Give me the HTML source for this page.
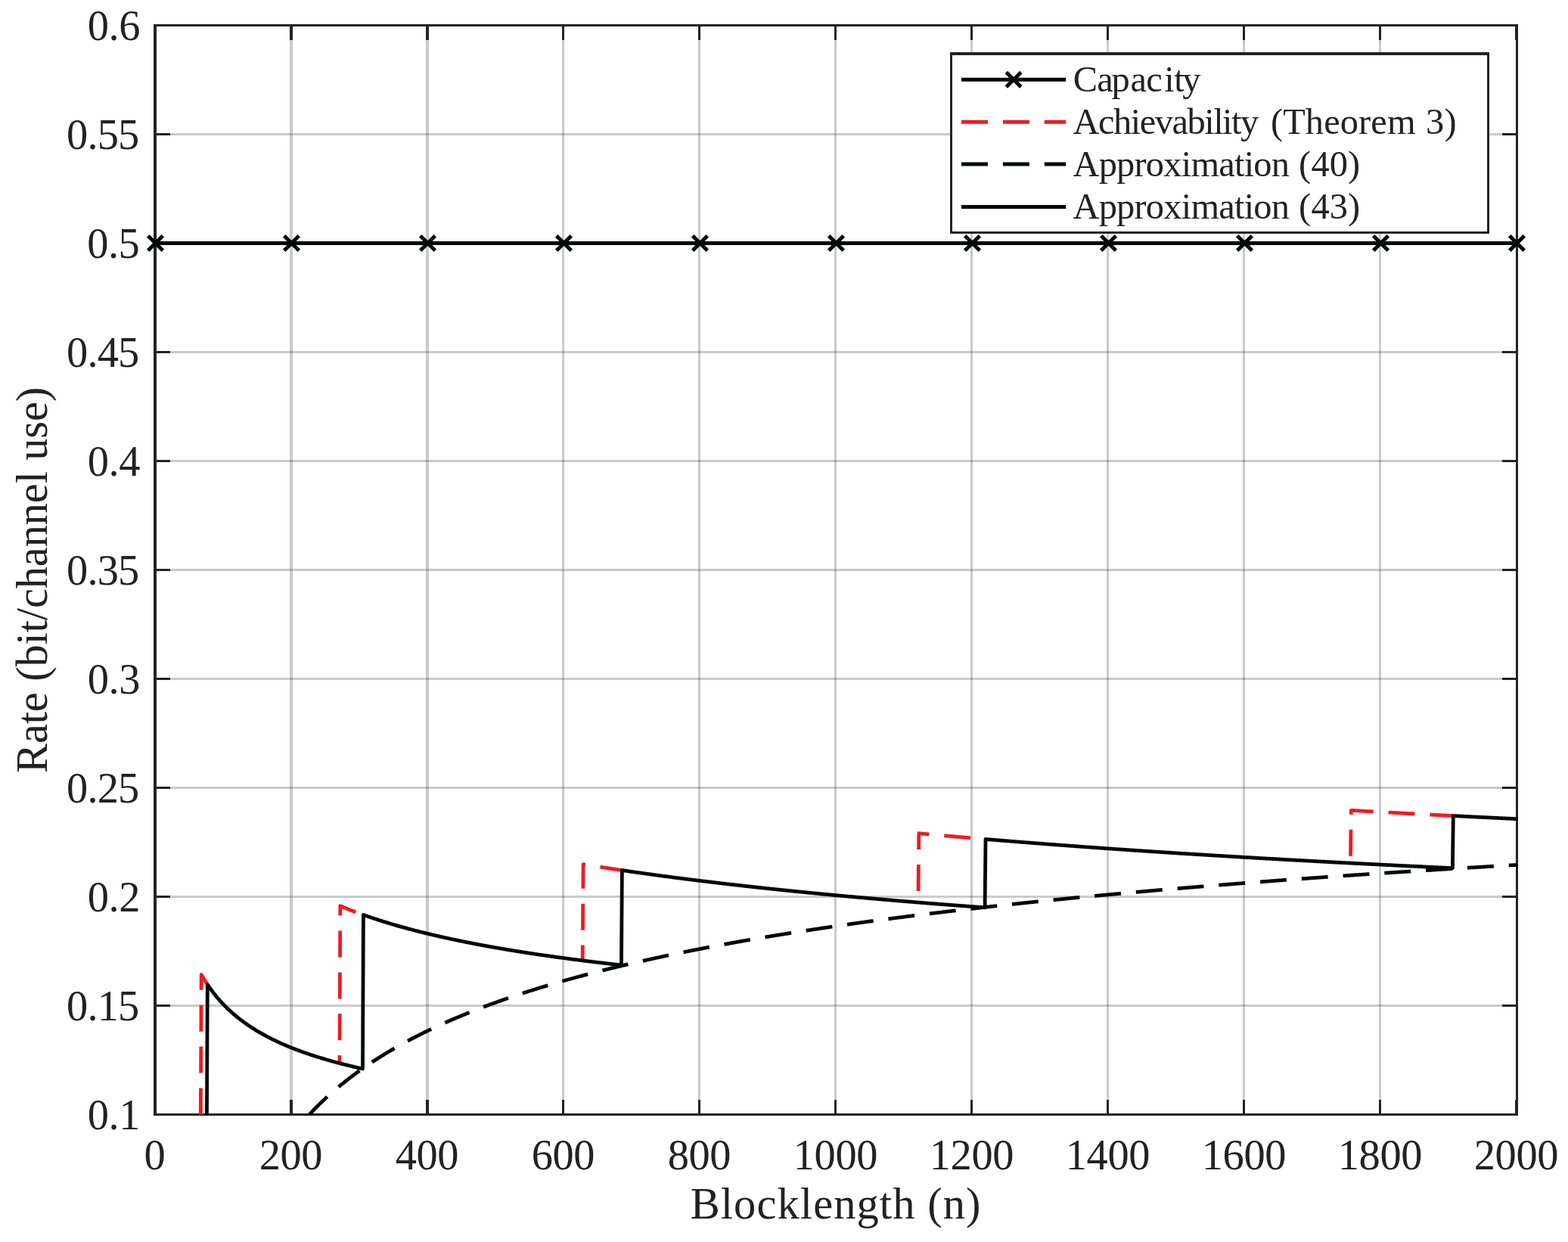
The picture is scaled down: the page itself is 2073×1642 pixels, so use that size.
<!DOCTYPE html>
<html lang="en"><head><meta charset="utf-8"><title>Rate vs Blocklength</title>
<style>html,body{margin:0;padding:0;background:#fff;}body{width:2073px;height:1642px;overflow:hidden;}svg{display:block;}</style>
</head><body>
<svg width="2073" height="1642" viewBox="0 0 2073 1642">
<rect width="2073" height="1642" fill="#ffffff"/>
<defs><clipPath id="ax"><rect x="205.0" y="32.0" width="1802.0" height="1443.0"/></clipPath></defs>
<g shape-rendering="crispEdges" fill="#262626" fill-opacity="0.245">
<rect x="383.0" y="35" width="4" height="1437"/>
<rect x="563.0" y="35" width="4" height="1437"/>
<rect x="743.0" y="35" width="3" height="1437"/>
<rect x="923.0" y="35" width="3" height="1437"/>
<rect x="1103.0" y="35" width="3" height="1437"/>
<rect x="1283.0" y="35" width="3" height="1437"/>
<rect x="1463.0" y="35" width="3" height="1437"/>
<rect x="1643.0" y="35" width="3" height="1437"/>
<rect x="1823.0" y="35" width="3" height="1437"/>
<rect x="207" y="176.0" width="1797" height="3"/>
<rect x="207" y="320.0" width="1797" height="3"/>
<rect x="207" y="464.0" width="1797" height="3"/>
<rect x="207" y="608.0" width="1797" height="3"/>
<rect x="207" y="752.0" width="1797" height="3"/>
<rect x="207" y="896.0" width="1797" height="3"/>
<rect x="207" y="1040.0" width="1797" height="3"/>
<rect x="207" y="1184.0" width="1797" height="3"/>
<rect x="207" y="1328.0" width="1797" height="3"/>
</g>
<g shape-rendering="crispEdges" fill="#232323">
<rect x="203" y="32" width="4" height="1443"/>
<rect x="2004" y="32" width="3" height="1443"/>
<rect x="203" y="32" width="1804" height="3"/>
<rect x="203" y="1472" width="1804" height="3"/>
<rect x="383.0" y="35" width="4" height="18"/>
<rect x="383.0" y="1454" width="4" height="18"/>
<rect x="563.0" y="35" width="4" height="18"/>
<rect x="563.0" y="1454" width="4" height="18"/>
<rect x="743.0" y="35" width="3" height="18"/>
<rect x="743.0" y="1454" width="3" height="18"/>
<rect x="923.0" y="35" width="3" height="18"/>
<rect x="923.0" y="1454" width="3" height="18"/>
<rect x="1103.0" y="35" width="3" height="18"/>
<rect x="1103.0" y="1454" width="3" height="18"/>
<rect x="1283.0" y="35" width="3" height="18"/>
<rect x="1283.0" y="1454" width="3" height="18"/>
<rect x="1463.0" y="35" width="3" height="18"/>
<rect x="1463.0" y="1454" width="3" height="18"/>
<rect x="1643.0" y="35" width="3" height="18"/>
<rect x="1643.0" y="1454" width="3" height="18"/>
<rect x="1823.0" y="35" width="3" height="18"/>
<rect x="1823.0" y="1454" width="3" height="18"/>
<rect x="2003.0" y="35" width="3" height="18"/>
<rect x="2003.0" y="1454" width="3" height="18"/>
<rect x="207" y="176.0" width="18" height="3"/>
<rect x="1986" y="176.0" width="18" height="3"/>
<rect x="207" y="320.0" width="18" height="3"/>
<rect x="1986" y="320.0" width="18" height="3"/>
<rect x="207" y="464.0" width="18" height="3"/>
<rect x="1986" y="464.0" width="18" height="3"/>
<rect x="207" y="608.0" width="18" height="3"/>
<rect x="1986" y="608.0" width="18" height="3"/>
<rect x="207" y="752.0" width="18" height="3"/>
<rect x="1986" y="752.0" width="18" height="3"/>
<rect x="207" y="896.0" width="18" height="3"/>
<rect x="1986" y="896.0" width="18" height="3"/>
<rect x="207" y="1040.0" width="18" height="3"/>
<rect x="1986" y="1040.0" width="18" height="3"/>
<rect x="207" y="1184.0" width="18" height="3"/>
<rect x="1986" y="1184.0" width="18" height="3"/>
<rect x="207" y="1328.0" width="18" height="3"/>
<rect x="1986" y="1328.0" width="18" height="3"/>
</g>
<g clip-path="url(#ax)" fill="none" stroke-linejoin="round">
<path d="M205.0,321.5 H2007.0" stroke="#050707" stroke-width="5"/>
<path d="M265.30,1473.50 L266.20,1288.47 L267.10,1290.04 L268.00,1291.58 L268.90,1293.10 L269.80,1294.58 L270.70,1296.04 L271.60,1297.47 L272.50,1298.87 L273.40,1300.25 L274.30,1301.61" stroke="#ed1c24" stroke-width="4.8" stroke-dasharray="35.00 19.90" stroke-dashoffset="0.00"/>
<path d="M448.90,1405.66 L449.80,1197.65 L450.70,1198.03 L451.60,1198.41 L452.50,1198.78 L453.40,1199.15 L454.30,1199.52 L455.20,1199.89 L456.10,1200.26 L457.00,1200.62 L457.90,1200.98 L458.80,1201.34 L459.70,1201.70 L460.60,1202.06 L461.50,1202.42 L462.40,1202.77 L463.30,1203.12 L464.20,1203.47 L465.10,1203.82 L466.00,1204.17 L466.90,1204.51 L467.80,1204.86 L468.70,1205.20 L469.60,1205.54 L470.50,1205.87 L471.40,1206.21 L472.30,1206.55 L473.20,1206.88 L474.10,1207.21 L475.00,1207.54 L475.90,1207.87 L476.80,1208.20 L477.70,1208.52 L478.60,1208.85 L479.50,1209.17 L480.40,1209.49" stroke="#ed1c24" stroke-width="4.8" stroke-dasharray="35.00 19.90" stroke-dashoffset="24.54"/>
<path d="M770.20,1269.89 L771.10,1142.62 L772.00,1142.77 L772.90,1142.91 L773.80,1143.06 L774.70,1143.20 L775.60,1143.35 L776.50,1143.49 L777.40,1143.64 L778.30,1143.78 L779.20,1143.93 L780.10,1144.07 L781.00,1144.22 L781.90,1144.36 L782.80,1144.50 L783.70,1144.65 L784.60,1144.79 L785.50,1144.93 L786.40,1145.07 L787.30,1145.22 L788.20,1145.36 L789.10,1145.50 L790.00,1145.64 L790.90,1145.78 L791.80,1145.92 L792.70,1146.06 L793.60,1146.20 L794.50,1146.34 L795.40,1146.48 L796.30,1146.62 L797.20,1146.76 L798.10,1146.90 L799.00,1147.04 L799.90,1147.18 L800.80,1147.32 L801.70,1147.46 L802.60,1147.59 L803.50,1147.73 L804.40,1147.87 L805.30,1148.01 L806.20,1148.14 L807.10,1148.28 L808.00,1148.42 L808.90,1148.55 L809.80,1148.69 L810.70,1148.82 L811.60,1148.96 L812.50,1149.09 L813.40,1149.23 L814.30,1149.36 L815.20,1149.50 L816.10,1149.63 L817.00,1149.77 L817.90,1149.90 L818.80,1150.03 L819.70,1150.17 L820.60,1150.30 L821.50,1150.43 L822.40,1150.57" stroke="#ed1c24" stroke-width="4.8" stroke-dasharray="35.00 19.90" stroke-dashoffset="14.71"/>
<path d="M1213.90,1193.06 L1214.80,1101.69 L1215.70,1101.78 L1216.60,1101.86 L1217.50,1101.94 L1218.40,1102.03 L1219.30,1102.11 L1220.20,1102.19 L1221.10,1102.28 L1222.00,1102.36 L1222.90,1102.44 L1223.80,1102.53 L1224.70,1102.61 L1225.60,1102.69 L1226.50,1102.77 L1227.40,1102.86 L1228.30,1102.94 L1229.20,1103.02 L1230.10,1103.10 L1231.00,1103.19 L1231.90,1103.27 L1232.80,1103.35 L1233.70,1103.43 L1234.60,1103.51 L1235.50,1103.59 L1236.40,1103.68 L1237.30,1103.76 L1238.20,1103.84 L1239.10,1103.92 L1240.00,1104.00 L1240.90,1104.08 L1241.80,1104.16 L1242.70,1104.24 L1243.60,1104.32 L1244.50,1104.40 L1245.40,1104.49 L1246.30,1104.57 L1247.20,1104.65 L1248.10,1104.73 L1249.00,1104.81 L1249.90,1104.89 L1250.80,1104.97 L1251.70,1105.05 L1252.60,1105.13 L1253.50,1105.21 L1254.40,1105.29 L1255.30,1105.37 L1256.20,1105.45 L1257.10,1105.53 L1258.00,1105.60 L1258.90,1105.68 L1259.80,1105.76 L1260.70,1105.84 L1261.60,1105.92 L1262.50,1106.00 L1263.40,1106.08 L1264.30,1106.16 L1265.20,1106.24 L1266.10,1106.31 L1267.00,1106.39 L1267.90,1106.47 L1268.80,1106.55 L1269.70,1106.63 L1270.60,1106.71 L1271.50,1106.78 L1272.40,1106.86 L1273.30,1106.94 L1274.20,1107.02 L1275.10,1107.10 L1276.00,1107.17 L1276.90,1107.25 L1277.80,1107.33 L1278.70,1107.41 L1279.60,1107.48 L1280.50,1107.56 L1281.40,1107.64 L1282.30,1107.72 L1283.20,1107.79 L1284.10,1107.87 L1285.00,1107.95 L1285.90,1108.02 L1286.80,1108.10 L1287.70,1108.18 L1288.60,1108.25 L1289.50,1108.33 L1290.40,1108.40 L1291.30,1108.48 L1292.20,1108.56 L1293.10,1108.63 L1294.00,1108.71 L1294.90,1108.79 L1295.80,1108.86 L1296.70,1108.94 L1297.60,1109.01 L1298.50,1109.09 L1299.40,1109.16 L1300.30,1109.24 L1301.20,1109.31 L1302.10,1109.39 L1303.00,1109.47" stroke="#ed1c24" stroke-width="4.8" stroke-dasharray="35.00 19.90" stroke-dashoffset="39.74"/>
<path d="M1785.40,1141.07 L1786.30,1071.31 L1787.20,1071.36 L1788.10,1071.41 L1789.00,1071.46 L1789.90,1071.51 L1790.80,1071.57 L1791.70,1071.62 L1792.60,1071.67 L1793.50,1071.72 L1794.40,1071.77 L1795.30,1071.82 L1796.20,1071.87 L1797.10,1071.92 L1798.00,1071.97 L1798.90,1072.02 L1799.80,1072.08 L1800.70,1072.13 L1801.60,1072.18 L1802.50,1072.23 L1803.40,1072.28 L1804.30,1072.33 L1805.20,1072.38 L1806.10,1072.43 L1807.00,1072.48 L1807.90,1072.53 L1808.80,1072.58 L1809.70,1072.63 L1810.60,1072.68 L1811.50,1072.73 L1812.40,1072.78 L1813.30,1072.83 L1814.20,1072.88 L1815.10,1072.93 L1816.00,1072.98 L1816.90,1073.03 L1817.80,1073.08 L1818.70,1073.13 L1819.60,1073.18 L1820.50,1073.23 L1821.40,1073.28 L1822.30,1073.33 L1823.20,1073.38 L1824.10,1073.43 L1825.00,1073.48 L1825.90,1073.53 L1826.80,1073.58 L1827.70,1073.63 L1828.60,1073.68 L1829.50,1073.73 L1830.40,1073.78 L1831.30,1073.83 L1832.20,1073.88 L1833.10,1073.93 L1834.00,1073.98 L1834.90,1074.03 L1835.80,1074.07 L1836.70,1074.12 L1837.60,1074.17 L1838.50,1074.22 L1839.40,1074.27 L1840.30,1074.32 L1841.20,1074.37 L1842.10,1074.42 L1843.00,1074.47 L1843.90,1074.52 L1844.80,1074.56 L1845.70,1074.61 L1846.60,1074.66 L1847.50,1074.71 L1848.40,1074.76 L1849.30,1074.81 L1850.20,1074.86 L1851.10,1074.90 L1852.00,1074.95 L1852.90,1075.00 L1853.80,1075.05 L1854.70,1075.10 L1855.60,1075.15 L1856.50,1075.19 L1857.40,1075.24 L1858.30,1075.29 L1859.20,1075.34 L1860.10,1075.39 L1861.00,1075.44 L1861.90,1075.48 L1862.80,1075.53 L1863.70,1075.58 L1864.60,1075.63 L1865.50,1075.67 L1866.40,1075.72 L1867.30,1075.77 L1868.20,1075.82 L1869.10,1075.87 L1870.00,1075.91 L1870.90,1075.96 L1871.80,1076.01 L1872.70,1076.06 L1873.60,1076.10 L1874.50,1076.15 L1875.40,1076.20 L1876.30,1076.25 L1877.20,1076.29 L1878.10,1076.34 L1879.00,1076.39 L1879.90,1076.44 L1880.80,1076.48 L1881.70,1076.53 L1882.60,1076.58 L1883.50,1076.62 L1884.40,1076.67 L1885.30,1076.72 L1886.20,1076.76 L1887.10,1076.81 L1888.00,1076.86 L1888.90,1076.91 L1889.80,1076.95 L1890.70,1077.00 L1891.60,1077.05 L1892.50,1077.09 L1893.40,1077.14 L1894.30,1077.19 L1895.20,1077.23 L1896.10,1077.28 L1897.00,1077.33 L1897.90,1077.37 L1898.80,1077.42 L1899.70,1077.47 L1900.60,1077.51 L1901.50,1077.56 L1902.40,1077.60 L1903.30,1077.65 L1904.20,1077.70 L1905.10,1077.74 L1906.00,1077.79 L1906.90,1077.84 L1907.80,1077.88 L1908.70,1077.93 L1909.60,1077.97 L1910.50,1078.02 L1911.40,1078.07 L1912.30,1078.11 L1913.20,1078.16 L1914.10,1078.20 L1915.00,1078.25 L1915.90,1078.29 L1916.80,1078.34 L1917.70,1078.39 L1918.60,1078.43 L1919.50,1078.48 L1920.40,1078.52 L1921.30,1078.57" stroke="#ed1c24" stroke-width="4.8" stroke-dasharray="35.00 19.90" stroke-dashoffset="45.63"/>
<path id="dsh" d="M409.05,1473.50 L409.30,1473.23 L410.20,1472.27 L411.10,1471.31 L412.00,1470.36 L412.90,1469.41 L413.80,1468.47 L414.70,1467.54 L415.60,1466.61 L416.50,1465.69 L417.40,1464.77 L418.30,1463.86 L419.20,1462.96 L420.10,1462.06 L421.00,1461.17 L421.90,1460.28 L422.80,1459.40 L423.70,1458.52 L424.60,1457.65 L425.50,1456.78 L426.40,1455.92 L427.30,1455.07 L428.20,1454.22 L429.10,1453.37 L430.00,1452.53 L430.90,1451.69 L431.80,1450.86 L432.70,1450.03 L433.60,1449.21 L434.50,1448.40 L435.40,1447.58 L436.30,1446.78 L437.20,1445.97 L438.10,1445.17 L439.00,1444.38 L439.90,1443.59 L440.80,1442.81 L441.70,1442.02 L442.60,1441.25 L443.50,1440.48 L444.40,1439.71 L445.30,1438.94 L446.20,1438.18 L447.10,1437.43 L448.00,1436.67 L448.90,1435.93 L449.80,1435.18 L450.70,1434.44 L451.60,1433.71 L452.50,1432.97 L453.40,1432.25 L454.30,1431.52 L455.20,1430.80 L456.10,1430.08 L457.00,1429.37 L457.90,1428.66 L458.80,1427.95 L459.70,1427.25 L460.60,1426.55 L461.50,1425.85 L462.40,1425.16 L463.30,1424.47 L464.20,1423.78 L465.10,1423.10 L466.00,1422.42 L466.90,1421.75 L467.80,1421.07 L468.70,1420.41 L469.60,1419.74 L470.50,1419.08 L471.40,1418.42 L472.30,1417.76 L473.20,1417.11 L474.10,1416.46 L475.00,1415.81 L475.90,1415.16 L476.80,1414.52 L477.70,1413.88 L478.60,1413.25 L479.50,1412.62 L480.40,1411.99 L481.30,1411.36 L482.20,1410.74 L483.10,1410.11 L484.00,1409.50 L484.90,1408.88 L485.80,1408.27 L486.70,1407.66 L487.60,1407.05 L488.50,1406.44 L489.40,1405.84 L490.30,1405.24 L491.20,1404.65 L492.10,1404.05 L493.00,1403.46 L493.90,1402.87 L494.80,1402.28 L495.70,1401.70 L496.60,1401.12 L497.50,1400.54 L498.40,1399.96 L499.30,1399.39 L500.20,1398.82 L501.10,1398.25 L502.00,1397.68 L502.90,1397.12 L503.80,1396.55 L504.70,1395.99 L505.60,1395.44 L506.50,1394.88 L507.40,1394.33 L508.30,1393.78 L509.20,1393.23 L510.10,1392.68 L511.00,1392.14 L511.90,1391.59 L512.80,1391.05 L513.70,1390.52 L514.60,1389.98 L515.50,1389.45 L516.40,1388.92 L517.30,1388.39 L518.20,1387.86 L519.10,1387.34 L520.00,1386.81 L520.90,1386.29 L521.80,1385.77 L522.70,1385.26 L523.60,1384.74 L524.50,1384.23 L525.40,1383.72 L526.30,1383.21 L527.20,1382.70 L528.10,1382.19 L529.00,1381.69 L529.90,1381.19 L530.80,1380.69 L531.70,1380.19 L532.60,1379.70 L533.50,1379.20 L534.40,1378.71 L535.30,1378.22 L536.20,1377.73 L537.10,1377.24 L538.00,1376.76 L538.90,1376.28 L539.80,1375.80 L540.70,1375.32 L541.60,1374.84 L542.50,1374.36 L543.40,1373.89 L544.30,1373.41 L545.20,1372.94 L546.10,1372.47 L547.00,1372.01 L547.90,1371.54 L548.80,1371.07 L549.70,1370.61 L550.60,1370.15 L551.50,1369.69 L552.40,1369.23 L553.30,1368.78 L554.20,1368.32 L555.10,1367.87 L556.00,1367.42 L556.90,1366.97 L557.80,1366.52 L558.70,1366.07 L559.60,1365.63 L560.50,1365.18 L561.40,1364.74 L562.30,1364.30 L563.20,1363.86 L564.10,1363.42 L565.00,1362.98 L565.90,1362.55 L566.80,1362.12 L567.70,1361.68 L568.60,1361.25 L569.50,1360.82 L570.40,1360.39 L571.30,1359.97 L572.20,1359.54 L573.10,1359.12 L574.00,1358.70 L574.90,1358.28 L575.80,1357.86 L576.70,1357.44 L577.60,1357.02 L578.50,1356.61 L579.40,1356.19 L580.30,1355.78 L581.20,1355.37 L582.10,1354.96 L583.00,1354.55 L583.90,1354.14 L584.80,1353.73 L585.70,1353.33 L586.60,1352.92 L587.50,1352.52 L588.40,1352.12 L589.30,1351.72 L590.20,1351.32 L591.10,1350.92 L592.00,1350.53 L592.90,1350.13 L593.80,1349.74 L594.70,1349.35 L595.60,1348.96 L596.50,1348.56 L597.40,1348.18 L598.30,1347.79 L599.20,1347.40 L600.10,1347.02 L601.00,1346.63 L601.90,1346.25 L602.80,1345.87 L603.70,1345.49 L604.60,1345.11 L605.50,1344.73 L606.40,1344.35 L607.30,1343.97 L608.20,1343.60 L609.10,1343.22 L610.00,1342.85 L610.90,1342.48 L611.80,1342.11 L612.70,1341.74 L613.60,1341.37 L614.50,1341.00 L615.40,1340.63 L616.30,1340.27 L617.20,1339.90 L618.10,1339.54 L619.00,1339.18 L619.90,1338.82 L620.80,1338.46 L621.70,1338.10 L622.60,1337.74 L623.50,1337.38 L624.40,1337.03 L625.30,1336.67 L626.20,1336.32 L627.10,1335.96 L628.00,1335.61 L628.90,1335.26 L629.80,1334.91 L630.70,1334.56 L631.60,1334.21 L632.50,1333.87 L633.40,1333.52 L634.30,1333.17 L635.20,1332.83 L636.10,1332.49 L637.00,1332.14 L637.90,1331.80 L638.80,1331.46 L639.70,1331.12 L640.60,1330.78 L641.50,1330.45 L642.40,1330.11 L643.30,1329.77 L644.20,1329.44 L645.10,1329.10 L646.00,1328.77 L646.90,1328.44 L647.80,1328.11 L648.70,1327.78 L649.60,1327.45 L650.50,1327.12 L651.40,1326.79 L652.30,1326.46 L653.20,1326.14 L654.10,1325.81 L655.00,1325.49 L655.90,1325.16 L656.80,1324.84 L657.70,1324.52 L658.60,1324.20 L659.50,1323.88 L660.40,1323.56 L661.30,1323.24 L662.20,1322.92 L663.10,1322.60 L664.00,1322.29 L664.90,1321.97 L665.80,1321.66 L666.70,1321.34 L667.60,1321.03 L668.50,1320.72 L669.40,1320.41 L670.30,1320.10 L671.20,1319.79 L672.10,1319.48 L673.00,1319.17 L673.90,1318.86 L674.80,1318.56 L675.70,1318.25 L676.60,1317.94 L677.50,1317.64 L678.40,1317.34 L679.30,1317.03 L680.20,1316.73 L681.10,1316.43 L682.00,1316.13 L682.90,1315.83 L683.80,1315.53 L684.70,1315.23 L685.60,1314.93 L686.50,1314.64 L687.40,1314.34 L688.30,1314.05 L689.20,1313.75 L690.10,1313.46 L691.00,1313.16 L691.90,1312.87 L692.80,1312.58 L693.70,1312.29 L694.60,1312.00 L695.50,1311.71 L696.40,1311.42 L697.30,1311.13 L698.20,1310.84 L699.10,1310.56 L700.00,1310.27 L700.90,1309.98 L701.80,1309.70 L702.70,1309.42 L703.60,1309.13 L704.50,1308.85 L705.40,1308.57 L706.30,1308.29 L707.20,1308.00 L708.10,1307.72 L709.00,1307.44 L709.90,1307.17 L710.80,1306.89 L711.70,1306.61 L712.60,1306.33 L713.50,1306.06 L714.40,1305.78 L715.30,1305.51 L716.20,1305.23 L717.10,1304.96 L718.00,1304.68 L718.90,1304.41 L719.80,1304.14 L720.70,1303.87 L721.60,1303.60 L722.50,1303.33 L723.40,1303.06 L724.30,1302.79 L725.20,1302.52 L726.10,1302.25 L727.00,1301.99 L727.90,1301.72 L728.80,1301.46 L729.70,1301.19 L730.60,1300.93 L731.50,1300.66 L732.40,1300.40 L733.30,1300.14 L734.20,1299.87 L735.10,1299.61 L736.00,1299.35 L736.90,1299.09 L737.80,1298.83 L738.70,1298.57 L739.60,1298.31 L740.50,1298.05 L741.40,1297.80 L742.30,1297.54 L743.20,1297.28 L744.10,1297.03 L745.00,1296.77 L745.90,1296.52 L746.80,1296.26 L747.70,1296.01 L748.60,1295.75 L749.50,1295.50 L750.40,1295.25 L751.30,1295.00 L752.20,1294.75 L753.10,1294.50 L754.00,1294.25 L754.90,1294.00 L755.80,1293.75 L756.70,1293.50 L757.60,1293.25 L758.50,1293.01 L759.40,1292.76 L760.30,1292.51 L761.20,1292.27 L762.10,1292.02 L763.00,1291.78 L763.90,1291.53 L764.80,1291.29 L765.70,1291.05 L766.60,1290.80 L767.50,1290.56 L768.40,1290.32 L769.30,1290.08 L770.20,1289.84 L771.10,1289.60 L772.00,1289.36 L772.90,1289.12 L773.80,1288.88 L774.70,1288.64 L775.60,1288.41 L776.50,1288.17 L777.40,1287.93 L778.30,1287.70 L779.20,1287.46 L780.10,1287.22 L781.00,1286.99 L781.90,1286.76 L782.80,1286.52 L783.70,1286.29 L784.60,1286.06 L785.50,1285.82 L786.40,1285.59 L787.30,1285.36 L788.20,1285.13 L789.10,1284.90 L790.00,1284.67 L790.90,1284.44 L791.80,1284.21 L792.70,1283.98 L793.60,1283.75 L794.50,1283.53 L795.40,1283.30 L796.30,1283.07 L797.20,1282.85 L798.10,1282.62 L799.00,1282.39 L799.90,1282.17 L800.80,1281.95 L801.70,1281.72 L802.60,1281.50 L803.50,1281.27 L804.40,1281.05 L805.30,1280.83 L806.20,1280.61 L807.10,1280.39 L808.00,1280.16 L808.90,1279.94 L809.80,1279.72 L810.70,1279.50 L811.60,1279.29 L812.50,1279.07 L813.40,1278.85 L814.30,1278.63 L815.20,1278.41 L816.10,1278.19 L817.00,1277.98 L817.90,1277.76 L818.80,1277.55 L819.70,1277.33 L820.60,1277.12 L821.50,1276.90 L822.40,1276.69 L823.30,1276.47 L824.20,1276.26 L825.10,1276.05 L826.00,1275.83 L826.90,1275.62 L827.80,1275.41 L828.70,1275.20 L829.60,1274.99 L830.50,1274.78 L831.40,1274.57 L832.30,1274.36 L833.20,1274.15 L834.10,1273.94 L835.00,1273.73 L835.90,1273.52 L836.80,1273.31 L837.70,1273.10 L838.60,1272.90 L839.50,1272.69 L840.40,1272.48 L841.30,1272.28 L842.20,1272.07 L843.10,1271.87 L844.00,1271.66 L844.90,1271.46 L845.80,1271.25 L846.70,1271.05 L847.60,1270.85 L848.50,1270.64 L849.40,1270.44 L850.30,1270.24 L851.20,1270.04 L852.10,1269.84 L853.00,1269.63 L853.90,1269.43 L854.80,1269.23 L855.70,1269.03 L856.60,1268.83 L857.50,1268.63 L858.40,1268.43 L859.30,1268.24 L860.20,1268.04 L861.10,1267.84 L862.00,1267.64 L862.90,1267.45 L863.80,1267.25 L864.70,1267.05 L865.60,1266.86 L866.50,1266.66 L867.40,1266.46 L868.30,1266.27 L869.20,1266.07 L870.10,1265.88 L871.00,1265.69 L871.90,1265.49 L872.80,1265.30 L873.70,1265.11 L874.60,1264.91 L875.50,1264.72 L876.40,1264.53 L877.30,1264.34 L878.20,1264.15 L879.10,1263.96 L880.00,1263.76 L880.90,1263.57 L881.80,1263.38 L882.70,1263.19 L883.60,1263.00 L884.50,1262.82 L885.40,1262.63 L886.30,1262.44 L887.20,1262.25 L888.10,1262.06 L889.00,1261.88 L889.90,1261.69 L890.80,1261.50 L891.70,1261.32 L892.60,1261.13 L893.50,1260.94 L894.40,1260.76 L895.30,1260.57 L896.20,1260.39 L897.10,1260.20 L898.00,1260.02 L898.90,1259.84 L899.80,1259.65 L900.70,1259.47 L901.60,1259.29 L902.50,1259.10 L903.40,1258.92 L904.30,1258.74 L905.20,1258.56 L906.10,1258.38 L907.00,1258.19 L907.90,1258.01 L908.80,1257.83 L909.70,1257.65 L910.60,1257.47 L911.50,1257.29 L912.40,1257.11 L913.30,1256.93 L914.20,1256.76 L915.10,1256.58 L916.00,1256.40 L916.90,1256.22 L917.80,1256.04 L918.70,1255.87 L919.60,1255.69 L920.50,1255.51 L921.40,1255.34 L922.30,1255.16 L923.20,1254.98 L924.10,1254.81 L925.00,1254.63 L925.90,1254.46 L926.80,1254.28 L927.70,1254.11 L928.60,1253.94 L929.50,1253.76 L930.40,1253.59 L931.30,1253.42 L932.20,1253.24 L933.10,1253.07 L934.00,1252.90 L934.90,1252.73 L935.80,1252.55 L936.70,1252.38 L937.60,1252.21 L938.50,1252.04 L939.40,1251.87 L940.30,1251.70 L941.20,1251.53 L942.10,1251.36 L943.00,1251.19 L943.90,1251.02 L944.80,1250.85 L945.70,1250.68 L946.60,1250.51 L947.50,1250.34 L948.40,1250.18 L949.30,1250.01 L950.20,1249.84 L951.10,1249.67 L952.00,1249.51 L952.90,1249.34 L953.80,1249.17 L954.70,1249.01 L955.60,1248.84 L956.50,1248.68 L957.40,1248.51 L958.30,1248.35 L959.20,1248.18 L960.10,1248.02 L961.00,1247.85 L961.90,1247.69 L962.80,1247.52 L963.70,1247.36 L964.60,1247.20 L965.50,1247.03 L966.40,1246.87 L967.30,1246.71 L968.20,1246.55 L969.10,1246.38 L970.00,1246.22 L970.90,1246.06 L971.80,1245.90 L972.70,1245.74 L973.60,1245.58 L974.50,1245.42 L975.40,1245.26 L976.30,1245.10 L977.20,1244.94 L978.10,1244.78 L979.00,1244.62 L979.90,1244.46 L980.80,1244.30 L981.70,1244.14 L982.60,1243.98 L983.50,1243.82 L984.40,1243.67 L985.30,1243.51 L986.20,1243.35 L987.10,1243.19 L988.00,1243.04 L988.90,1242.88 L989.80,1242.72 L990.70,1242.57 L991.60,1242.41 L992.50,1242.26 L993.40,1242.10 L994.30,1241.95 L995.20,1241.79 L996.10,1241.64 L997.00,1241.48 L997.90,1241.33 L998.80,1241.17 L999.70,1241.02 L1000.60,1240.86 L1001.50,1240.71 L1002.40,1240.56 L1003.30,1240.40 L1004.20,1240.25 L1005.10,1240.10 L1006.00,1239.95 L1006.90,1239.79 L1007.80,1239.64 L1008.70,1239.49 L1009.60,1239.34 L1010.50,1239.19 L1011.40,1239.04 L1012.30,1238.89 L1013.20,1238.74 L1014.10,1238.59 L1015.00,1238.44 L1015.90,1238.29 L1016.80,1238.14 L1017.70,1237.99 L1018.60,1237.84 L1019.50,1237.69 L1020.40,1237.54 L1021.30,1237.39 L1022.20,1237.24 L1023.10,1237.09 L1024.00,1236.95 L1024.90,1236.80 L1025.80,1236.65 L1026.70,1236.50 L1027.60,1236.36 L1028.50,1236.21 L1029.40,1236.06 L1030.30,1235.92 L1031.20,1235.77 L1032.10,1235.62 L1033.00,1235.48 L1033.90,1235.33 L1034.80,1235.19 L1035.70,1235.04 L1036.60,1234.90 L1037.50,1234.75 L1038.40,1234.61 L1039.30,1234.46 L1040.20,1234.32 L1041.10,1234.17 L1042.00,1234.03 L1042.90,1233.89 L1043.80,1233.74 L1044.70,1233.60 L1045.60,1233.46 L1046.50,1233.32 L1047.40,1233.17 L1048.30,1233.03 L1049.20,1232.89 L1050.10,1232.75 L1051.00,1232.60 L1051.90,1232.46 L1052.80,1232.32 L1053.70,1232.18 L1054.60,1232.04 L1055.50,1231.90 L1056.40,1231.76 L1057.30,1231.62 L1058.20,1231.48 L1059.10,1231.34 L1060.00,1231.20 L1060.90,1231.06 L1061.80,1230.92 L1062.70,1230.78 L1063.60,1230.64 L1064.50,1230.50 L1065.40,1230.36 L1066.30,1230.22 L1067.20,1230.09 L1068.10,1229.95 L1069.00,1229.81 L1069.90,1229.67 L1070.80,1229.53 L1071.70,1229.40 L1072.60,1229.26 L1073.50,1229.12 L1074.40,1228.99 L1075.30,1228.85 L1076.20,1228.71 L1077.10,1228.58 L1078.00,1228.44 L1078.90,1228.30 L1079.80,1228.17 L1080.70,1228.03 L1081.60,1227.90 L1082.50,1227.76 L1083.40,1227.63 L1084.30,1227.49 L1085.20,1227.36 L1086.10,1227.22 L1087.00,1227.09 L1087.90,1226.96 L1088.80,1226.82 L1089.70,1226.69 L1090.60,1226.56 L1091.50,1226.42 L1092.40,1226.29 L1093.30,1226.16 L1094.20,1226.02 L1095.10,1225.89 L1096.00,1225.76 L1096.90,1225.63 L1097.80,1225.49 L1098.70,1225.36 L1099.60,1225.23 L1100.50,1225.10 L1101.40,1224.97 L1102.30,1224.84 L1103.20,1224.70 L1104.10,1224.57 L1105.00,1224.44 L1105.90,1224.31 L1106.80,1224.18 L1107.70,1224.05 L1108.60,1223.92 L1109.50,1223.79 L1110.40,1223.66 L1111.30,1223.53 L1112.20,1223.40 L1113.10,1223.27 L1114.00,1223.15 L1114.90,1223.02 L1115.80,1222.89 L1116.70,1222.76 L1117.60,1222.63 L1118.50,1222.50 L1119.40,1222.37 L1120.30,1222.25 L1121.20,1222.12 L1122.10,1221.99 L1123.00,1221.86 L1123.90,1221.74 L1124.80,1221.61 L1125.70,1221.48 L1126.60,1221.36 L1127.50,1221.23 L1128.40,1221.10 L1129.30,1220.98 L1130.20,1220.85 L1131.10,1220.73 L1132.00,1220.60 L1132.90,1220.47 L1133.80,1220.35 L1134.70,1220.22 L1135.60,1220.10 L1136.50,1219.97 L1137.40,1219.85 L1138.30,1219.72 L1139.20,1219.60 L1140.10,1219.48 L1141.00,1219.35 L1141.90,1219.23 L1142.80,1219.10 L1143.70,1218.98 L1144.60,1218.86 L1145.50,1218.73 L1146.40,1218.61 L1147.30,1218.49 L1148.20,1218.36 L1149.10,1218.24 L1150.00,1218.12 L1150.90,1218.00 L1151.80,1217.87 L1152.70,1217.75 L1153.60,1217.63 L1154.50,1217.51 L1155.40,1217.39 L1156.30,1217.27 L1157.20,1217.14 L1158.10,1217.02 L1159.00,1216.90 L1159.90,1216.78 L1160.80,1216.66 L1161.70,1216.54 L1162.60,1216.42 L1163.50,1216.30 L1164.40,1216.18 L1165.30,1216.06 L1166.20,1215.94 L1167.10,1215.82 L1168.00,1215.70 L1168.90,1215.58 L1169.80,1215.46 L1170.70,1215.34 L1171.60,1215.22 L1172.50,1215.10 L1173.40,1214.99 L1174.30,1214.87 L1175.20,1214.75 L1176.10,1214.63 L1177.00,1214.51 L1177.90,1214.40 L1178.80,1214.28 L1179.70,1214.16 L1180.60,1214.04 L1181.50,1213.92 L1182.40,1213.81 L1183.30,1213.69 L1184.20,1213.57 L1185.10,1213.46 L1186.00,1213.34 L1186.90,1213.22 L1187.80,1213.11 L1188.70,1212.99 L1189.60,1212.88 L1190.50,1212.76 L1191.40,1212.64 L1192.30,1212.53 L1193.20,1212.41 L1194.10,1212.30 L1195.00,1212.18 L1195.90,1212.07 L1196.80,1211.95 L1197.70,1211.84 L1198.60,1211.72 L1199.50,1211.61 L1200.40,1211.49 L1201.30,1211.38 L1202.20,1211.26 L1203.10,1211.15 L1204.00,1211.04 L1204.90,1210.92 L1205.80,1210.81 L1206.70,1210.70 L1207.60,1210.58 L1208.50,1210.47 L1209.40,1210.36 L1210.30,1210.24 L1211.20,1210.13 L1212.10,1210.02 L1213.00,1209.91 L1213.90,1209.79 L1214.80,1209.68 L1215.70,1209.57 L1216.60,1209.46 L1217.50,1209.34 L1218.40,1209.23 L1219.30,1209.12 L1220.20,1209.01 L1221.10,1208.90 L1222.00,1208.79 L1222.90,1208.68 L1223.80,1208.56 L1224.70,1208.45 L1225.60,1208.34 L1226.50,1208.23 L1227.40,1208.12 L1228.30,1208.01 L1229.20,1207.90 L1230.10,1207.79 L1231.00,1207.68 L1231.90,1207.57 L1232.80,1207.46 L1233.70,1207.35 L1234.60,1207.24 L1235.50,1207.13 L1236.40,1207.02 L1237.30,1206.92 L1238.20,1206.81 L1239.10,1206.70 L1240.00,1206.59 L1240.90,1206.48 L1241.80,1206.37 L1242.70,1206.26 L1243.60,1206.16 L1244.50,1206.05 L1245.40,1205.94 L1246.30,1205.83 L1247.20,1205.72 L1248.10,1205.62 L1249.00,1205.51 L1249.90,1205.40 L1250.80,1205.30 L1251.70,1205.19 L1252.60,1205.08 L1253.50,1204.97 L1254.40,1204.87 L1255.30,1204.76 L1256.20,1204.65 L1257.10,1204.55 L1258.00,1204.44 L1258.90,1204.34 L1259.80,1204.23 L1260.70,1204.12 L1261.60,1204.02 L1262.50,1203.91 L1263.40,1203.81 L1264.30,1203.70 L1265.20,1203.60 L1266.10,1203.49 L1267.00,1203.39 L1267.90,1203.28 L1268.80,1203.18 L1269.70,1203.07 L1270.60,1202.97 L1271.50,1202.86 L1272.40,1202.76 L1273.30,1202.65 L1274.20,1202.55 L1275.10,1202.45 L1276.00,1202.34 L1276.90,1202.24 L1277.80,1202.14 L1278.70,1202.03 L1279.60,1201.93 L1280.50,1201.83 L1281.40,1201.72 L1282.30,1201.62 L1283.20,1201.52 L1284.10,1201.41 L1285.00,1201.31 L1285.90,1201.21 L1286.80,1201.11 L1287.70,1201.00 L1288.60,1200.90 L1289.50,1200.80 L1290.40,1200.70 L1291.30,1200.59 L1292.20,1200.49 L1293.10,1200.39 L1294.00,1200.29 L1294.90,1200.19 L1295.80,1200.09 L1296.70,1199.99 L1297.60,1199.88 L1298.50,1199.78 L1299.40,1199.68 L1300.30,1199.58 L1301.20,1199.48 L1302.10,1199.38 L1303.00,1199.28 L1303.90,1199.18 L1304.80,1199.08 L1305.70,1198.98 L1306.60,1198.88 L1307.50,1198.78 L1308.40,1198.68 L1309.30,1198.58 L1310.20,1198.48 L1311.10,1198.38 L1312.00,1198.28 L1312.90,1198.18 L1313.80,1198.08 L1314.70,1197.98 L1315.60,1197.88 L1316.50,1197.79 L1317.40,1197.69 L1318.30,1197.59 L1319.20,1197.49 L1320.10,1197.39 L1321.00,1197.29 L1321.90,1197.19 L1322.80,1197.10 L1323.70,1197.00 L1324.60,1196.90 L1325.50,1196.80 L1326.40,1196.70 L1327.30,1196.61 L1328.20,1196.51 L1329.10,1196.41 L1330.00,1196.32 L1330.90,1196.22 L1331.80,1196.12 L1332.70,1196.02 L1333.60,1195.93 L1334.50,1195.83 L1335.40,1195.73 L1336.30,1195.64 L1337.20,1195.54 L1338.10,1195.44 L1339.00,1195.35 L1339.90,1195.25 L1340.80,1195.16 L1341.70,1195.06 L1342.60,1194.96 L1343.50,1194.87 L1344.40,1194.77 L1345.30,1194.68 L1346.20,1194.58 L1347.10,1194.49 L1348.00,1194.39 L1348.90,1194.30 L1349.80,1194.20 L1350.70,1194.11 L1351.60,1194.01 L1352.50,1193.92 L1353.40,1193.82 L1354.30,1193.73 L1355.20,1193.63 L1356.10,1193.54 L1357.00,1193.44 L1357.90,1193.35 L1358.80,1193.26 L1359.70,1193.16 L1360.60,1193.07 L1361.50,1192.97 L1362.40,1192.88 L1363.30,1192.79 L1364.20,1192.69 L1365.10,1192.60 L1366.00,1192.51 L1366.90,1192.41 L1367.80,1192.32 L1368.70,1192.23 L1369.60,1192.13 L1370.50,1192.04 L1371.40,1191.95 L1372.30,1191.86 L1373.20,1191.76 L1374.10,1191.67 L1375.00,1191.58 L1375.90,1191.49 L1376.80,1191.39 L1377.70,1191.30 L1378.60,1191.21 L1379.50,1191.12 L1380.40,1191.03 L1381.30,1190.93 L1382.20,1190.84 L1383.10,1190.75 L1384.00,1190.66 L1384.90,1190.57 L1385.80,1190.48 L1386.70,1190.39 L1387.60,1190.30 L1388.50,1190.20 L1389.40,1190.11 L1390.30,1190.02 L1391.20,1189.93 L1392.10,1189.84 L1393.00,1189.75 L1393.90,1189.66 L1394.80,1189.57 L1395.70,1189.48 L1396.60,1189.39 L1397.50,1189.30 L1398.40,1189.21 L1399.30,1189.12 L1400.20,1189.03 L1401.10,1188.94 L1402.00,1188.85 L1402.90,1188.76 L1403.80,1188.67 L1404.70,1188.58 L1405.60,1188.49 L1406.50,1188.40 L1407.40,1188.32 L1408.30,1188.23 L1409.20,1188.14 L1410.10,1188.05 L1411.00,1187.96 L1411.90,1187.87 L1412.80,1187.78 L1413.70,1187.69 L1414.60,1187.61 L1415.50,1187.52 L1416.40,1187.43 L1417.30,1187.34 L1418.20,1187.25 L1419.10,1187.17 L1420.00,1187.08 L1420.90,1186.99 L1421.80,1186.90 L1422.70,1186.81 L1423.60,1186.73 L1424.50,1186.64 L1425.40,1186.55 L1426.30,1186.47 L1427.20,1186.38 L1428.10,1186.29 L1429.00,1186.20 L1429.90,1186.12 L1430.80,1186.03 L1431.70,1185.94 L1432.60,1185.86 L1433.50,1185.77 L1434.40,1185.68 L1435.30,1185.60 L1436.20,1185.51 L1437.10,1185.43 L1438.00,1185.34 L1438.90,1185.25 L1439.80,1185.17 L1440.70,1185.08 L1441.60,1185.00 L1442.50,1184.91 L1443.40,1184.82 L1444.30,1184.74 L1445.20,1184.65 L1446.10,1184.57 L1447.00,1184.48 L1447.90,1184.40 L1448.80,1184.31 L1449.70,1184.23 L1450.60,1184.14 L1451.50,1184.06 L1452.40,1183.97 L1453.30,1183.89 L1454.20,1183.80 L1455.10,1183.72 L1456.00,1183.63 L1456.90,1183.55 L1457.80,1183.47 L1458.70,1183.38 L1459.60,1183.30 L1460.50,1183.21 L1461.40,1183.13 L1462.30,1183.04 L1463.20,1182.96 L1464.10,1182.88 L1465.00,1182.79 L1465.90,1182.71 L1466.80,1182.63 L1467.70,1182.54 L1468.60,1182.46 L1469.50,1182.38 L1470.40,1182.29 L1471.30,1182.21 L1472.20,1182.13 L1473.10,1182.04 L1474.00,1181.96 L1474.90,1181.88 L1475.80,1181.80 L1476.70,1181.71 L1477.60,1181.63 L1478.50,1181.55 L1479.40,1181.47 L1480.30,1181.38 L1481.20,1181.30 L1482.10,1181.22 L1483.00,1181.14 L1483.90,1181.05 L1484.80,1180.97 L1485.70,1180.89 L1486.60,1180.81 L1487.50,1180.73 L1488.40,1180.65 L1489.30,1180.56 L1490.20,1180.48 L1491.10,1180.40 L1492.00,1180.32 L1492.90,1180.24 L1493.80,1180.16 L1494.70,1180.08 L1495.60,1180.00 L1496.50,1179.91 L1497.40,1179.83 L1498.30,1179.75 L1499.20,1179.67 L1500.10,1179.59 L1501.00,1179.51 L1501.90,1179.43 L1502.80,1179.35 L1503.70,1179.27 L1504.60,1179.19 L1505.50,1179.11 L1506.40,1179.03 L1507.30,1178.95 L1508.20,1178.87 L1509.10,1178.79 L1510.00,1178.71 L1510.90,1178.63 L1511.80,1178.55 L1512.70,1178.47 L1513.60,1178.39 L1514.50,1178.31 L1515.40,1178.23 L1516.30,1178.15 L1517.20,1178.07 L1518.10,1177.99 L1519.00,1177.91 L1519.90,1177.84 L1520.80,1177.76 L1521.70,1177.68 L1522.60,1177.60 L1523.50,1177.52 L1524.40,1177.44 L1525.30,1177.36 L1526.20,1177.28 L1527.10,1177.21 L1528.00,1177.13 L1528.90,1177.05 L1529.80,1176.97 L1530.70,1176.89 L1531.60,1176.81 L1532.50,1176.74 L1533.40,1176.66 L1534.30,1176.58 L1535.20,1176.50 L1536.10,1176.42 L1537.00,1176.35 L1537.90,1176.27 L1538.80,1176.19 L1539.70,1176.11 L1540.60,1176.04 L1541.50,1175.96 L1542.40,1175.88 L1543.30,1175.81 L1544.20,1175.73 L1545.10,1175.65 L1546.00,1175.57 L1546.90,1175.50 L1547.80,1175.42 L1548.70,1175.34 L1549.60,1175.27 L1550.50,1175.19 L1551.40,1175.11 L1552.30,1175.04 L1553.20,1174.96 L1554.10,1174.88 L1555.00,1174.81 L1555.90,1174.73 L1556.80,1174.66 L1557.70,1174.58 L1558.60,1174.50 L1559.50,1174.43 L1560.40,1174.35 L1561.30,1174.28 L1562.20,1174.20 L1563.10,1174.12 L1564.00,1174.05 L1564.90,1173.97 L1565.80,1173.90 L1566.70,1173.82 L1567.60,1173.75 L1568.50,1173.67 L1569.40,1173.60 L1570.30,1173.52 L1571.20,1173.45 L1572.10,1173.37 L1573.00,1173.30 L1573.90,1173.22 L1574.80,1173.15 L1575.70,1173.07 L1576.60,1173.00 L1577.50,1172.92 L1578.40,1172.85 L1579.30,1172.77 L1580.20,1172.70 L1581.10,1172.62 L1582.00,1172.55 L1582.90,1172.48 L1583.80,1172.40 L1584.70,1172.33 L1585.60,1172.25 L1586.50,1172.18 L1587.40,1172.11 L1588.30,1172.03 L1589.20,1171.96 L1590.10,1171.88 L1591.00,1171.81 L1591.90,1171.74 L1592.80,1171.66 L1593.70,1171.59 L1594.60,1171.52 L1595.50,1171.44 L1596.40,1171.37 L1597.30,1171.30 L1598.20,1171.22 L1599.10,1171.15 L1600.00,1171.08 L1600.90,1171.00 L1601.80,1170.93 L1602.70,1170.86 L1603.60,1170.79 L1604.50,1170.71 L1605.40,1170.64 L1606.30,1170.57 L1607.20,1170.50 L1608.10,1170.42 L1609.00,1170.35 L1609.90,1170.28 L1610.80,1170.21 L1611.70,1170.13 L1612.60,1170.06 L1613.50,1169.99 L1614.40,1169.92 L1615.30,1169.85 L1616.20,1169.77 L1617.10,1169.70 L1618.00,1169.63 L1618.90,1169.56 L1619.80,1169.49 L1620.70,1169.41 L1621.60,1169.34 L1622.50,1169.27 L1623.40,1169.20 L1624.30,1169.13 L1625.20,1169.06 L1626.10,1168.99 L1627.00,1168.92 L1627.90,1168.84 L1628.80,1168.77 L1629.70,1168.70 L1630.60,1168.63 L1631.50,1168.56 L1632.40,1168.49 L1633.30,1168.42 L1634.20,1168.35 L1635.10,1168.28 L1636.00,1168.21 L1636.90,1168.14 L1637.80,1168.07 L1638.70,1168.00 L1639.60,1167.92 L1640.50,1167.85 L1641.40,1167.78 L1642.30,1167.71 L1643.20,1167.64 L1644.10,1167.57 L1645.00,1167.50 L1645.90,1167.43 L1646.80,1167.36 L1647.70,1167.29 L1648.60,1167.22 L1649.50,1167.16 L1650.40,1167.09 L1651.30,1167.02 L1652.20,1166.95 L1653.10,1166.88 L1654.00,1166.81 L1654.90,1166.74 L1655.80,1166.67 L1656.70,1166.60 L1657.60,1166.53 L1658.50,1166.46 L1659.40,1166.39 L1660.30,1166.32 L1661.20,1166.25 L1662.10,1166.19 L1663.00,1166.12 L1663.90,1166.05 L1664.80,1165.98 L1665.70,1165.91 L1666.60,1165.84 L1667.50,1165.77 L1668.40,1165.70 L1669.30,1165.64 L1670.20,1165.57 L1671.10,1165.50 L1672.00,1165.43 L1672.90,1165.36 L1673.80,1165.30 L1674.70,1165.23 L1675.60,1165.16 L1676.50,1165.09 L1677.40,1165.02 L1678.30,1164.96 L1679.20,1164.89 L1680.10,1164.82 L1681.00,1164.75 L1681.90,1164.68 L1682.80,1164.62 L1683.70,1164.55 L1684.60,1164.48 L1685.50,1164.41 L1686.40,1164.35 L1687.30,1164.28 L1688.20,1164.21 L1689.10,1164.14 L1690.00,1164.08 L1690.90,1164.01 L1691.80,1163.94 L1692.70,1163.88 L1693.60,1163.81 L1694.50,1163.74 L1695.40,1163.68 L1696.30,1163.61 L1697.20,1163.54 L1698.10,1163.48 L1699.00,1163.41 L1699.90,1163.34 L1700.80,1163.28 L1701.70,1163.21 L1702.60,1163.14 L1703.50,1163.08 L1704.40,1163.01 L1705.30,1162.94 L1706.20,1162.88 L1707.10,1162.81 L1708.00,1162.75 L1708.90,1162.68 L1709.80,1162.61 L1710.70,1162.55 L1711.60,1162.48 L1712.50,1162.42 L1713.40,1162.35 L1714.30,1162.28 L1715.20,1162.22 L1716.10,1162.15 L1717.00,1162.09 L1717.90,1162.02 L1718.80,1161.96 L1719.70,1161.89 L1720.60,1161.83 L1721.50,1161.76 L1722.40,1161.70 L1723.30,1161.63 L1724.20,1161.57 L1725.10,1161.50 L1726.00,1161.44 L1726.90,1161.37 L1727.80,1161.31 L1728.70,1161.24 L1729.60,1161.18 L1730.50,1161.11 L1731.40,1161.05 L1732.30,1160.98 L1733.20,1160.92 L1734.10,1160.85 L1735.00,1160.79 L1735.90,1160.72 L1736.80,1160.66 L1737.70,1160.59 L1738.60,1160.53 L1739.50,1160.47 L1740.40,1160.40 L1741.30,1160.34 L1742.20,1160.27 L1743.10,1160.21 L1744.00,1160.15 L1744.90,1160.08 L1745.80,1160.02 L1746.70,1159.95 L1747.60,1159.89 L1748.50,1159.83 L1749.40,1159.76 L1750.30,1159.70 L1751.20,1159.64 L1752.10,1159.57 L1753.00,1159.51 L1753.90,1159.44 L1754.80,1159.38 L1755.70,1159.32 L1756.60,1159.25 L1757.50,1159.19 L1758.40,1159.13 L1759.30,1159.07 L1760.20,1159.00 L1761.10,1158.94 L1762.00,1158.88 L1762.90,1158.81 L1763.80,1158.75 L1764.70,1158.69 L1765.60,1158.62 L1766.50,1158.56 L1767.40,1158.50 L1768.30,1158.44 L1769.20,1158.37 L1770.10,1158.31 L1771.00,1158.25 L1771.90,1158.19 L1772.80,1158.12 L1773.70,1158.06 L1774.60,1158.00 L1775.50,1157.94 L1776.40,1157.87 L1777.30,1157.81 L1778.20,1157.75 L1779.10,1157.69 L1780.00,1157.63 L1780.90,1157.56 L1781.80,1157.50 L1782.70,1157.44 L1783.60,1157.38 L1784.50,1157.32 L1785.40,1157.25 L1786.30,1157.19 L1787.20,1157.13 L1788.10,1157.07 L1789.00,1157.01 L1789.90,1156.95 L1790.80,1156.89 L1791.70,1156.82 L1792.60,1156.76 L1793.50,1156.70 L1794.40,1156.64 L1795.30,1156.58 L1796.20,1156.52 L1797.10,1156.46 L1798.00,1156.39 L1798.90,1156.33 L1799.80,1156.27 L1800.70,1156.21 L1801.60,1156.15 L1802.50,1156.09 L1803.40,1156.03 L1804.30,1155.97 L1805.20,1155.91 L1806.10,1155.85 L1807.00,1155.79 L1807.90,1155.73 L1808.80,1155.67 L1809.70,1155.60 L1810.60,1155.54 L1811.50,1155.48 L1812.40,1155.42 L1813.30,1155.36 L1814.20,1155.30 L1815.10,1155.24 L1816.00,1155.18 L1816.90,1155.12 L1817.80,1155.06 L1818.70,1155.00 L1819.60,1154.94 L1820.50,1154.88 L1821.40,1154.82 L1822.30,1154.76 L1823.20,1154.70 L1824.10,1154.64 L1825.00,1154.58 L1825.90,1154.52 L1826.80,1154.46 L1827.70,1154.40 L1828.60,1154.34 L1829.50,1154.29 L1830.40,1154.23 L1831.30,1154.17 L1832.20,1154.11 L1833.10,1154.05 L1834.00,1153.99 L1834.90,1153.93 L1835.80,1153.87 L1836.70,1153.81 L1837.60,1153.75 L1838.50,1153.69 L1839.40,1153.63 L1840.30,1153.57 L1841.20,1153.52 L1842.10,1153.46 L1843.00,1153.40 L1843.90,1153.34 L1844.80,1153.28 L1845.70,1153.22 L1846.60,1153.16 L1847.50,1153.10 L1848.40,1153.05 L1849.30,1152.99 L1850.20,1152.93 L1851.10,1152.87 L1852.00,1152.81 L1852.90,1152.75 L1853.80,1152.69 L1854.70,1152.64 L1855.60,1152.58 L1856.50,1152.52 L1857.40,1152.46 L1858.30,1152.40 L1859.20,1152.35 L1860.10,1152.29 L1861.00,1152.23 L1861.90,1152.17 L1862.80,1152.11 L1863.70,1152.06 L1864.60,1152.00 L1865.50,1151.94 L1866.40,1151.88 L1867.30,1151.82 L1868.20,1151.77 L1869.10,1151.71 L1870.00,1151.65 L1870.90,1151.59 L1871.80,1151.54 L1872.70,1151.48 L1873.60,1151.42 L1874.50,1151.36 L1875.40,1151.31 L1876.30,1151.25 L1877.20,1151.19 L1878.10,1151.14 L1879.00,1151.08 L1879.90,1151.02 L1880.80,1150.96 L1881.70,1150.91 L1882.60,1150.85 L1883.50,1150.79 L1884.40,1150.74 L1885.30,1150.68 L1886.20,1150.62 L1887.10,1150.57 L1888.00,1150.51 L1888.90,1150.45 L1889.80,1150.40 L1890.70,1150.34 L1891.60,1150.28 L1892.50,1150.23 L1893.40,1150.17 L1894.30,1150.11 L1895.20,1150.06 L1896.10,1150.00 L1897.00,1149.94 L1897.90,1149.89 L1898.80,1149.83 L1899.70,1149.78 L1900.60,1149.72 L1901.50,1149.66 L1902.40,1149.61 L1903.30,1149.55 L1904.20,1149.50 L1905.10,1149.44 L1906.00,1149.38 L1906.90,1149.33 L1907.80,1149.27 L1908.70,1149.22 L1909.60,1149.16 L1910.50,1149.10 L1911.40,1149.05 L1912.30,1148.99 L1913.20,1148.94 L1914.10,1148.88 L1915.00,1148.83 L1915.90,1148.77 L1916.80,1148.72 L1917.70,1148.66 L1918.60,1148.60 L1919.50,1148.55 L1920.40,1148.49 L1921.30,1148.44 L1922.20,1148.38 L1923.10,1148.33 L1924.00,1148.27 L1924.90,1148.22 L1925.80,1148.16 L1926.70,1148.11 L1927.60,1148.05 L1928.50,1148.00 L1929.40,1147.94 L1930.30,1147.89 L1931.20,1147.83 L1932.10,1147.78 L1933.00,1147.72 L1933.90,1147.67 L1934.80,1147.61 L1935.70,1147.56 L1936.60,1147.50 L1937.50,1147.45 L1938.40,1147.40 L1939.30,1147.34 L1940.20,1147.29 L1941.10,1147.23 L1942.00,1147.18 L1942.90,1147.12 L1943.80,1147.07 L1944.70,1147.02 L1945.60,1146.96 L1946.50,1146.91 L1947.40,1146.85 L1948.30,1146.80 L1949.20,1146.74 L1950.10,1146.69 L1951.00,1146.64 L1951.90,1146.58 L1952.80,1146.53 L1953.70,1146.47 L1954.60,1146.42 L1955.50,1146.37 L1956.40,1146.31 L1957.30,1146.26 L1958.20,1146.21 L1959.10,1146.15 L1960.00,1146.10 L1960.90,1146.05 L1961.80,1145.99 L1962.70,1145.94 L1963.60,1145.88 L1964.50,1145.83 L1965.40,1145.78 L1966.30,1145.72 L1967.20,1145.67 L1968.10,1145.62 L1969.00,1145.56 L1969.90,1145.51 L1970.80,1145.46 L1971.70,1145.41 L1972.60,1145.35 L1973.50,1145.30 L1974.40,1145.25 L1975.30,1145.19 L1976.20,1145.14 L1977.10,1145.09 L1978.00,1145.03 L1978.90,1144.98 L1979.80,1144.93 L1980.70,1144.88 L1981.60,1144.82 L1982.50,1144.77 L1983.40,1144.72 L1984.30,1144.66 L1985.20,1144.61 L1986.10,1144.56 L1987.00,1144.51 L1987.90,1144.45 L1988.80,1144.40 L1989.70,1144.35 L1990.60,1144.30 L1991.50,1144.25 L1992.40,1144.19 L1993.30,1144.14 L1994.20,1144.09 L1995.10,1144.04 L1996.00,1143.98 L1996.90,1143.93 L1997.80,1143.88 L1998.70,1143.83 L1999.60,1143.78 L2000.50,1143.72 L2001.40,1143.67 L2002.30,1143.62 L2003.20,1143.57 L2004.10,1143.52 L2005.00,1143.46 L2005.90,1143.41 L2006.80,1143.36 L2007.70,1143.31" stroke="#050707" stroke-width="4.8" stroke-dasharray="35.00 19.90" stroke-dashoffset="1.67"/>
<path id="blk" d="M273.40,1476.50 L274.30,1301.61 L275.20,1302.94 L276.10,1304.25 L277.00,1305.54 L277.90,1306.81 L278.80,1308.05 L279.70,1309.28 L280.60,1310.48 L281.50,1311.67 L282.40,1312.84 L283.30,1313.99 L284.20,1315.12 L285.10,1316.24 L286.00,1317.34 L286.90,1318.42 L287.80,1319.48 L288.70,1320.53 L289.60,1321.57 L290.50,1322.59 L291.40,1323.59 L292.30,1324.59 L293.20,1325.56 L294.10,1326.53 L295.00,1327.48 L295.90,1328.42 L296.80,1329.34 L297.70,1330.26 L298.60,1331.16 L299.50,1332.05 L300.40,1332.93 L301.30,1333.79 L302.20,1334.65 L303.10,1335.49 L304.00,1336.33 L304.90,1337.15 L305.80,1337.97 L306.70,1338.77 L307.60,1339.57 L308.50,1340.35 L309.40,1341.13 L310.30,1341.89 L311.20,1342.65 L312.10,1343.40 L313.00,1344.14 L313.90,1344.87 L314.80,1345.59 L315.70,1346.31 L316.60,1347.02 L317.50,1347.72 L318.40,1348.41 L319.30,1349.09 L320.20,1349.77 L321.10,1350.44 L322.00,1351.10 L322.90,1351.76 L323.80,1352.41 L324.70,1353.05 L325.60,1353.68 L326.50,1354.31 L327.40,1354.93 L328.30,1355.55 L329.20,1356.16 L330.10,1356.76 L331.00,1357.36 L331.90,1357.95 L332.80,1358.54 L333.70,1359.12 L334.60,1359.69 L335.50,1360.26 L336.40,1360.83 L337.30,1361.38 L338.20,1361.94 L339.10,1362.48 L340.00,1363.03 L340.90,1363.56 L341.80,1364.10 L342.70,1364.63 L343.60,1365.15 L344.50,1365.67 L345.40,1366.18 L346.30,1366.69 L347.20,1367.19 L348.10,1367.69 L349.00,1368.19 L349.90,1368.68 L350.80,1369.17 L351.70,1369.65 L352.60,1370.13 L353.50,1370.61 L354.40,1371.08 L355.30,1371.54 L356.20,1372.01 L357.10,1372.47 L358.00,1372.92 L358.90,1373.37 L359.80,1373.82 L360.70,1374.27 L361.60,1374.71 L362.50,1375.14 L363.40,1375.58 L364.30,1376.01 L365.20,1376.44 L366.10,1376.86 L367.00,1377.28 L367.90,1377.70 L368.80,1378.11 L369.70,1378.52 L370.60,1378.93 L371.50,1379.33 L372.40,1379.73 L373.30,1380.13 L374.20,1380.53 L375.10,1380.92 L376.00,1381.31 L376.90,1381.70 L377.80,1382.08 L378.70,1382.46 L379.60,1382.84 L380.50,1383.21 L381.40,1383.59 L382.30,1383.96 L383.20,1384.32 L384.10,1384.69 L385.00,1385.05 L385.90,1385.41 L386.80,1385.77 L387.70,1386.12 L388.60,1386.47 L389.50,1386.82 L390.40,1387.17 L391.30,1387.52 L392.20,1387.86 L393.10,1388.20 L394.00,1388.54 L394.90,1388.87 L395.80,1389.21 L396.70,1389.54 L397.60,1389.87 L398.50,1390.19 L399.40,1390.52 L400.30,1390.84 L401.20,1391.16 L402.10,1391.48 L403.00,1391.80 L403.90,1392.11 L404.80,1392.42 L405.70,1392.74 L406.60,1393.04 L407.50,1393.35 L408.40,1393.66 L409.30,1393.96 L410.20,1394.26 L411.10,1394.56 L412.00,1394.85 L412.90,1395.15 L413.80,1395.44 L414.70,1395.74 L415.60,1396.03 L416.50,1396.31 L417.40,1396.60 L418.30,1396.88 L419.20,1397.17 L420.10,1397.45 L421.00,1397.73 L421.90,1398.01 L422.80,1398.28 L423.70,1398.56 L424.60,1398.83 L425.50,1399.10 L426.40,1399.37 L427.30,1399.64 L428.20,1399.91 L429.10,1400.17 L430.00,1400.44 L430.90,1400.70 L431.80,1400.96 L432.70,1401.22 L433.60,1401.48 L434.50,1401.74 L435.40,1401.99 L436.30,1402.24 L437.20,1402.50 L438.10,1402.75 L439.00,1403.00 L439.90,1403.25 L440.80,1403.49 L441.70,1403.74 L442.60,1403.98 L443.50,1404.22 L444.40,1404.47 L445.30,1404.71 L446.20,1404.95 L447.10,1405.18 L448.00,1405.42 L448.90,1405.66 L449.80,1405.89 L450.70,1406.12 L451.60,1406.35 L452.50,1406.58 L453.40,1406.81 L454.30,1407.04 L455.20,1407.27 L456.10,1407.49 L457.00,1407.72 L457.90,1407.94 L458.80,1408.16 L459.70,1408.39 L460.60,1408.61 L461.50,1408.82 L462.40,1409.04 L463.30,1409.26 L464.20,1409.47 L465.10,1409.69 L466.00,1409.90 L466.90,1410.12 L467.80,1410.33 L468.70,1410.54 L469.60,1410.75 L470.50,1410.96 L471.40,1411.16 L472.30,1411.37 L473.20,1411.57 L474.10,1411.78 L475.00,1411.98 L475.90,1412.18 L476.80,1412.39 L477.70,1412.59 L478.60,1412.79 L479.50,1412.99 L480.40,1209.49 L481.30,1209.81 L482.20,1210.13 L483.10,1210.44 L484.00,1210.76 L484.90,1211.07 L485.80,1211.39 L486.70,1211.70 L487.60,1212.01 L488.50,1212.31 L489.40,1212.62 L490.30,1212.93 L491.20,1213.23 L492.10,1213.53 L493.00,1213.83 L493.90,1214.13 L494.80,1214.43 L495.70,1214.73 L496.60,1215.02 L497.50,1215.32 L498.40,1215.61 L499.30,1215.90 L500.20,1216.19 L501.10,1216.48 L502.00,1216.77 L502.90,1217.06 L503.80,1217.34 L504.70,1217.63 L505.60,1217.91 L506.50,1218.19 L507.40,1218.47 L508.30,1218.75 L509.20,1219.03 L510.10,1219.31 L511.00,1219.58 L511.90,1219.86 L512.80,1220.13 L513.70,1220.40 L514.60,1220.68 L515.50,1220.95 L516.40,1221.21 L517.30,1221.48 L518.20,1221.75 L519.10,1222.02 L520.00,1222.28 L520.90,1222.54 L521.80,1222.81 L522.70,1223.07 L523.60,1223.33 L524.50,1223.59 L525.40,1223.85 L526.30,1224.10 L527.20,1224.36 L528.10,1224.61 L529.00,1224.87 L529.90,1225.12 L530.80,1225.37 L531.70,1225.62 L532.60,1225.87 L533.50,1226.12 L534.40,1226.37 L535.30,1226.62 L536.20,1226.86 L537.10,1227.11 L538.00,1227.35 L538.90,1227.60 L539.80,1227.84 L540.70,1228.08 L541.60,1228.32 L542.50,1228.56 L543.40,1228.80 L544.30,1229.04 L545.20,1229.28 L546.10,1229.51 L547.00,1229.75 L547.90,1229.98 L548.80,1230.21 L549.70,1230.45 L550.60,1230.68 L551.50,1230.91 L552.40,1231.14 L553.30,1231.37 L554.20,1231.60 L555.10,1231.82 L556.00,1232.05 L556.90,1232.27 L557.80,1232.50 L558.70,1232.72 L559.60,1232.95 L560.50,1233.17 L561.40,1233.39 L562.30,1233.61 L563.20,1233.83 L564.10,1234.05 L565.00,1234.27 L565.90,1234.49 L566.80,1234.70 L567.70,1234.92 L568.60,1235.13 L569.50,1235.35 L570.40,1235.56 L571.30,1235.78 L572.20,1235.99 L573.10,1236.20 L574.00,1236.41 L574.90,1236.62 L575.80,1236.83 L576.70,1237.04 L577.60,1237.24 L578.50,1237.45 L579.40,1237.66 L580.30,1237.86 L581.20,1238.07 L582.10,1238.27 L583.00,1238.48 L583.90,1238.68 L584.80,1238.88 L585.70,1239.08 L586.60,1239.28 L587.50,1239.48 L588.40,1239.68 L589.30,1239.88 L590.20,1240.08 L591.10,1240.28 L592.00,1240.47 L592.90,1240.67 L593.80,1240.86 L594.70,1241.06 L595.60,1241.25 L596.50,1241.45 L597.40,1241.64 L598.30,1241.83 L599.20,1242.02 L600.10,1242.21 L601.00,1242.40 L601.90,1242.59 L602.80,1242.78 L603.70,1242.97 L604.60,1243.16 L605.50,1243.35 L606.40,1243.53 L607.30,1243.72 L608.20,1243.90 L609.10,1244.09 L610.00,1244.27 L610.90,1244.46 L611.80,1244.64 L612.70,1244.82 L613.60,1245.00 L614.50,1245.18 L615.40,1245.37 L616.30,1245.55 L617.20,1245.73 L618.10,1245.90 L619.00,1246.08 L619.90,1246.26 L620.80,1246.44 L621.70,1246.61 L622.60,1246.79 L623.50,1246.97 L624.40,1247.14 L625.30,1247.32 L626.20,1247.49 L627.10,1247.66 L628.00,1247.84 L628.90,1248.01 L629.80,1248.18 L630.70,1248.35 L631.60,1248.52 L632.50,1248.69 L633.40,1248.86 L634.30,1249.03 L635.20,1249.20 L636.10,1249.37 L637.00,1249.54 L637.90,1249.70 L638.80,1249.87 L639.70,1250.04 L640.60,1250.20 L641.50,1250.37 L642.40,1250.53 L643.30,1250.70 L644.20,1250.86 L645.10,1251.02 L646.00,1251.19 L646.90,1251.35 L647.80,1251.51 L648.70,1251.67 L649.60,1251.83 L650.50,1251.99 L651.40,1252.15 L652.30,1252.31 L653.20,1252.47 L654.10,1252.63 L655.00,1252.79 L655.90,1252.95 L656.80,1253.10 L657.70,1253.26 L658.60,1253.42 L659.50,1253.57 L660.40,1253.73 L661.30,1253.88 L662.20,1254.04 L663.10,1254.19 L664.00,1254.34 L664.90,1254.50 L665.80,1254.65 L666.70,1254.80 L667.60,1254.95 L668.50,1255.11 L669.40,1255.26 L670.30,1255.41 L671.20,1255.56 L672.10,1255.71 L673.00,1255.86 L673.90,1256.01 L674.80,1256.15 L675.70,1256.30 L676.60,1256.45 L677.50,1256.60 L678.40,1256.74 L679.30,1256.89 L680.20,1257.04 L681.10,1257.18 L682.00,1257.33 L682.90,1257.47 L683.80,1257.62 L684.70,1257.76 L685.60,1257.91 L686.50,1258.05 L687.40,1258.19 L688.30,1258.33 L689.20,1258.48 L690.10,1258.62 L691.00,1258.76 L691.90,1258.90 L692.80,1259.04 L693.70,1259.18 L694.60,1259.32 L695.50,1259.46 L696.40,1259.60 L697.30,1259.74 L698.20,1259.88 L699.10,1260.02 L700.00,1260.15 L700.90,1260.29 L701.80,1260.43 L702.70,1260.56 L703.60,1260.70 L704.50,1260.84 L705.40,1260.97 L706.30,1261.11 L707.20,1261.24 L708.10,1261.38 L709.00,1261.51 L709.90,1261.64 L710.80,1261.78 L711.70,1261.91 L712.60,1262.04 L713.50,1262.18 L714.40,1262.31 L715.30,1262.44 L716.20,1262.57 L717.10,1262.70 L718.00,1262.83 L718.90,1262.96 L719.80,1263.09 L720.70,1263.22 L721.60,1263.35 L722.50,1263.48 L723.40,1263.61 L724.30,1263.74 L725.20,1263.87 L726.10,1263.99 L727.00,1264.12 L727.90,1264.25 L728.80,1264.38 L729.70,1264.50 L730.60,1264.63 L731.50,1264.75 L732.40,1264.88 L733.30,1265.01 L734.20,1265.13 L735.10,1265.25 L736.00,1265.38 L736.90,1265.50 L737.80,1265.63 L738.70,1265.75 L739.60,1265.87 L740.50,1266.00 L741.40,1266.12 L742.30,1266.24 L743.20,1266.36 L744.10,1266.48 L745.00,1266.61 L745.90,1266.73 L746.80,1266.85 L747.70,1266.97 L748.60,1267.09 L749.50,1267.21 L750.40,1267.33 L751.30,1267.45 L752.20,1267.57 L753.10,1267.68 L754.00,1267.80 L754.90,1267.92 L755.80,1268.04 L756.70,1268.16 L757.60,1268.27 L758.50,1268.39 L759.40,1268.51 L760.30,1268.62 L761.20,1268.74 L762.10,1268.86 L763.00,1268.97 L763.90,1269.09 L764.80,1269.20 L765.70,1269.32 L766.60,1269.43 L767.50,1269.55 L768.40,1269.66 L769.30,1269.77 L770.20,1269.89 L771.10,1270.00 L772.00,1270.11 L772.90,1270.23 L773.80,1270.34 L774.70,1270.45 L775.60,1270.56 L776.50,1270.68 L777.40,1270.79 L778.30,1270.90 L779.20,1271.01 L780.10,1271.12 L781.00,1271.23 L781.90,1271.34 L782.80,1271.45 L783.70,1271.56 L784.60,1271.67 L785.50,1271.78 L786.40,1271.89 L787.30,1272.00 L788.20,1272.10 L789.10,1272.21 L790.00,1272.32 L790.90,1272.43 L791.80,1272.54 L792.70,1272.64 L793.60,1272.75 L794.50,1272.86 L795.40,1272.96 L796.30,1273.07 L797.20,1273.18 L798.10,1273.28 L799.00,1273.39 L799.90,1273.49 L800.80,1273.60 L801.70,1273.70 L802.60,1273.81 L803.50,1273.91 L804.40,1274.02 L805.30,1274.12 L806.20,1274.22 L807.10,1274.33 L808.00,1274.43 L808.90,1274.53 L809.80,1274.64 L810.70,1274.74 L811.60,1274.84 L812.50,1274.94 L813.40,1275.05 L814.30,1275.15 L815.20,1275.25 L816.10,1275.35 L817.00,1275.45 L817.90,1275.55 L818.80,1275.65 L819.70,1275.75 L820.60,1275.85 L821.50,1275.95 L822.40,1150.57 L823.30,1150.70 L824.20,1150.83 L825.10,1150.96 L826.00,1151.10 L826.90,1151.23 L827.80,1151.36 L828.70,1151.49 L829.60,1151.62 L830.50,1151.75 L831.40,1151.88 L832.30,1152.01 L833.20,1152.14 L834.10,1152.27 L835.00,1152.40 L835.90,1152.53 L836.80,1152.66 L837.70,1152.79 L838.60,1152.92 L839.50,1153.05 L840.40,1153.18 L841.30,1153.30 L842.20,1153.43 L843.10,1153.56 L844.00,1153.69 L844.90,1153.81 L845.80,1153.94 L846.70,1154.07 L847.60,1154.19 L848.50,1154.32 L849.40,1154.45 L850.30,1154.57 L851.20,1154.70 L852.10,1154.82 L853.00,1154.95 L853.90,1155.08 L854.80,1155.20 L855.70,1155.33 L856.60,1155.45 L857.50,1155.57 L858.40,1155.70 L859.30,1155.82 L860.20,1155.95 L861.10,1156.07 L862.00,1156.19 L862.90,1156.32 L863.80,1156.44 L864.70,1156.56 L865.60,1156.68 L866.50,1156.81 L867.40,1156.93 L868.30,1157.05 L869.20,1157.17 L870.10,1157.29 L871.00,1157.42 L871.90,1157.54 L872.80,1157.66 L873.70,1157.78 L874.60,1157.90 L875.50,1158.02 L876.40,1158.14 L877.30,1158.26 L878.20,1158.38 L879.10,1158.50 L880.00,1158.62 L880.90,1158.74 L881.80,1158.86 L882.70,1158.98 L883.60,1159.10 L884.50,1159.21 L885.40,1159.33 L886.30,1159.45 L887.20,1159.57 L888.10,1159.69 L889.00,1159.80 L889.90,1159.92 L890.80,1160.04 L891.70,1160.16 L892.60,1160.27 L893.50,1160.39 L894.40,1160.51 L895.30,1160.62 L896.20,1160.74 L897.10,1160.85 L898.00,1160.97 L898.90,1161.09 L899.80,1161.20 L900.70,1161.32 L901.60,1161.43 L902.50,1161.55 L903.40,1161.66 L904.30,1161.78 L905.20,1161.89 L906.10,1162.00 L907.00,1162.12 L907.90,1162.23 L908.80,1162.35 L909.70,1162.46 L910.60,1162.57 L911.50,1162.69 L912.40,1162.80 L913.30,1162.91 L914.20,1163.02 L915.10,1163.14 L916.00,1163.25 L916.90,1163.36 L917.80,1163.47 L918.70,1163.58 L919.60,1163.70 L920.50,1163.81 L921.40,1163.92 L922.30,1164.03 L923.20,1164.14 L924.10,1164.25 L925.00,1164.36 L925.90,1164.47 L926.80,1164.58 L927.70,1164.69 L928.60,1164.80 L929.50,1164.91 L930.40,1165.02 L931.30,1165.13 L932.20,1165.24 L933.10,1165.35 L934.00,1165.46 L934.90,1165.57 L935.80,1165.68 L936.70,1165.79 L937.60,1165.89 L938.50,1166.00 L939.40,1166.11 L940.30,1166.22 L941.20,1166.32 L942.10,1166.43 L943.00,1166.54 L943.90,1166.65 L944.80,1166.75 L945.70,1166.86 L946.60,1166.97 L947.50,1167.07 L948.40,1167.18 L949.30,1167.29 L950.20,1167.39 L951.10,1167.50 L952.00,1167.60 L952.90,1167.71 L953.80,1167.82 L954.70,1167.92 L955.60,1168.03 L956.50,1168.13 L957.40,1168.24 L958.30,1168.34 L959.20,1168.45 L960.10,1168.55 L961.00,1168.65 L961.90,1168.76 L962.80,1168.86 L963.70,1168.97 L964.60,1169.07 L965.50,1169.17 L966.40,1169.28 L967.30,1169.38 L968.20,1169.48 L969.10,1169.59 L970.00,1169.69 L970.90,1169.79 L971.80,1169.89 L972.70,1170.00 L973.60,1170.10 L974.50,1170.20 L975.40,1170.30 L976.30,1170.40 L977.20,1170.50 L978.10,1170.61 L979.00,1170.71 L979.90,1170.81 L980.80,1170.91 L981.70,1171.01 L982.60,1171.11 L983.50,1171.21 L984.40,1171.31 L985.30,1171.41 L986.20,1171.51 L987.10,1171.61 L988.00,1171.71 L988.90,1171.81 L989.80,1171.91 L990.70,1172.01 L991.60,1172.11 L992.50,1172.21 L993.40,1172.31 L994.30,1172.41 L995.20,1172.51 L996.10,1172.61 L997.00,1172.70 L997.90,1172.80 L998.80,1172.90 L999.70,1173.00 L1000.60,1173.10 L1001.50,1173.19 L1002.40,1173.29 L1003.30,1173.39 L1004.20,1173.49 L1005.10,1173.58 L1006.00,1173.68 L1006.90,1173.78 L1007.80,1173.87 L1008.70,1173.97 L1009.60,1174.07 L1010.50,1174.16 L1011.40,1174.26 L1012.30,1174.36 L1013.20,1174.45 L1014.10,1174.55 L1015.00,1174.64 L1015.90,1174.74 L1016.80,1174.84 L1017.70,1174.93 L1018.60,1175.03 L1019.50,1175.12 L1020.40,1175.22 L1021.30,1175.31 L1022.20,1175.41 L1023.10,1175.50 L1024.00,1175.60 L1024.90,1175.69 L1025.80,1175.78 L1026.70,1175.88 L1027.60,1175.97 L1028.50,1176.07 L1029.40,1176.16 L1030.30,1176.25 L1031.20,1176.35 L1032.10,1176.44 L1033.00,1176.53 L1033.90,1176.63 L1034.80,1176.72 L1035.70,1176.81 L1036.60,1176.91 L1037.50,1177.00 L1038.40,1177.09 L1039.30,1177.18 L1040.20,1177.27 L1041.10,1177.37 L1042.00,1177.46 L1042.90,1177.55 L1043.80,1177.64 L1044.70,1177.73 L1045.60,1177.83 L1046.50,1177.92 L1047.40,1178.01 L1048.30,1178.10 L1049.20,1178.19 L1050.10,1178.28 L1051.00,1178.37 L1051.90,1178.46 L1052.80,1178.55 L1053.70,1178.64 L1054.60,1178.73 L1055.50,1178.82 L1056.40,1178.91 L1057.30,1179.00 L1058.20,1179.09 L1059.10,1179.18 L1060.00,1179.27 L1060.90,1179.36 L1061.80,1179.45 L1062.70,1179.54 L1063.60,1179.63 L1064.50,1179.72 L1065.40,1179.81 L1066.30,1179.90 L1067.20,1179.99 L1068.10,1180.07 L1069.00,1180.16 L1069.90,1180.25 L1070.80,1180.34 L1071.70,1180.43 L1072.60,1180.52 L1073.50,1180.60 L1074.40,1180.69 L1075.30,1180.78 L1076.20,1180.87 L1077.10,1180.95 L1078.00,1181.04 L1078.90,1181.13 L1079.80,1181.22 L1080.70,1181.30 L1081.60,1181.39 L1082.50,1181.48 L1083.40,1181.56 L1084.30,1181.65 L1085.20,1181.74 L1086.10,1181.82 L1087.00,1181.91 L1087.90,1181.99 L1088.80,1182.08 L1089.70,1182.17 L1090.60,1182.25 L1091.50,1182.34 L1092.40,1182.42 L1093.30,1182.51 L1094.20,1182.59 L1095.10,1182.68 L1096.00,1182.76 L1096.90,1182.85 L1097.80,1182.93 L1098.70,1183.02 L1099.60,1183.10 L1100.50,1183.19 L1101.40,1183.27 L1102.30,1183.36 L1103.20,1183.44 L1104.10,1183.53 L1105.00,1183.61 L1105.90,1183.69 L1106.80,1183.78 L1107.70,1183.86 L1108.60,1183.94 L1109.50,1184.03 L1110.40,1184.11 L1111.30,1184.19 L1112.20,1184.28 L1113.10,1184.36 L1114.00,1184.44 L1114.90,1184.53 L1115.80,1184.61 L1116.70,1184.69 L1117.60,1184.77 L1118.50,1184.86 L1119.40,1184.94 L1120.30,1185.02 L1121.20,1185.10 L1122.10,1185.19 L1123.00,1185.27 L1123.90,1185.35 L1124.80,1185.43 L1125.70,1185.51 L1126.60,1185.60 L1127.50,1185.68 L1128.40,1185.76 L1129.30,1185.84 L1130.20,1185.92 L1131.10,1186.00 L1132.00,1186.08 L1132.90,1186.16 L1133.80,1186.24 L1134.70,1186.32 L1135.60,1186.41 L1136.50,1186.49 L1137.40,1186.57 L1138.30,1186.65 L1139.20,1186.73 L1140.10,1186.81 L1141.00,1186.89 L1141.90,1186.97 L1142.80,1187.05 L1143.70,1187.13 L1144.60,1187.21 L1145.50,1187.29 L1146.40,1187.36 L1147.30,1187.44 L1148.20,1187.52 L1149.10,1187.60 L1150.00,1187.68 L1150.90,1187.76 L1151.80,1187.84 L1152.70,1187.92 L1153.60,1188.00 L1154.50,1188.08 L1155.40,1188.15 L1156.30,1188.23 L1157.20,1188.31 L1158.10,1188.39 L1159.00,1188.47 L1159.90,1188.54 L1160.80,1188.62 L1161.70,1188.70 L1162.60,1188.78 L1163.50,1188.86 L1164.40,1188.93 L1165.30,1189.01 L1166.20,1189.09 L1167.10,1189.17 L1168.00,1189.24 L1168.90,1189.32 L1169.80,1189.40 L1170.70,1189.47 L1171.60,1189.55 L1172.50,1189.63 L1173.40,1189.70 L1174.30,1189.78 L1175.20,1189.86 L1176.10,1189.93 L1177.00,1190.01 L1177.90,1190.09 L1178.80,1190.16 L1179.70,1190.24 L1180.60,1190.31 L1181.50,1190.39 L1182.40,1190.47 L1183.30,1190.54 L1184.20,1190.62 L1185.10,1190.69 L1186.00,1190.77 L1186.90,1190.84 L1187.80,1190.92 L1188.70,1190.99 L1189.60,1191.07 L1190.50,1191.14 L1191.40,1191.22 L1192.30,1191.29 L1193.20,1191.37 L1194.10,1191.44 L1195.00,1191.52 L1195.90,1191.59 L1196.80,1191.67 L1197.70,1191.74 L1198.60,1191.81 L1199.50,1191.89 L1200.40,1191.96 L1201.30,1192.04 L1202.20,1192.11 L1203.10,1192.18 L1204.00,1192.26 L1204.90,1192.33 L1205.80,1192.40 L1206.70,1192.48 L1207.60,1192.55 L1208.50,1192.62 L1209.40,1192.70 L1210.30,1192.77 L1211.20,1192.84 L1212.10,1192.92 L1213.00,1192.99 L1213.90,1193.06 L1214.80,1193.13 L1215.70,1193.21 L1216.60,1193.28 L1217.50,1193.35 L1218.40,1193.42 L1219.30,1193.50 L1220.20,1193.57 L1221.10,1193.64 L1222.00,1193.71 L1222.90,1193.78 L1223.80,1193.86 L1224.70,1193.93 L1225.60,1194.00 L1226.50,1194.07 L1227.40,1194.14 L1228.30,1194.21 L1229.20,1194.29 L1230.10,1194.36 L1231.00,1194.43 L1231.90,1194.50 L1232.80,1194.57 L1233.70,1194.64 L1234.60,1194.71 L1235.50,1194.78 L1236.40,1194.85 L1237.30,1194.92 L1238.20,1195.00 L1239.10,1195.07 L1240.00,1195.14 L1240.90,1195.21 L1241.80,1195.28 L1242.70,1195.35 L1243.60,1195.42 L1244.50,1195.49 L1245.40,1195.56 L1246.30,1195.63 L1247.20,1195.70 L1248.10,1195.77 L1249.00,1195.84 L1249.90,1195.91 L1250.80,1195.98 L1251.70,1196.04 L1252.60,1196.11 L1253.50,1196.18 L1254.40,1196.25 L1255.30,1196.32 L1256.20,1196.39 L1257.10,1196.46 L1258.00,1196.53 L1258.90,1196.60 L1259.80,1196.67 L1260.70,1196.73 L1261.60,1196.80 L1262.50,1196.87 L1263.40,1196.94 L1264.30,1197.01 L1265.20,1197.08 L1266.10,1197.15 L1267.00,1197.21 L1267.90,1197.28 L1268.80,1197.35 L1269.70,1197.42 L1270.60,1197.49 L1271.50,1197.55 L1272.40,1197.62 L1273.30,1197.69 L1274.20,1197.76 L1275.10,1197.82 L1276.00,1197.89 L1276.90,1197.96 L1277.80,1198.03 L1278.70,1198.09 L1279.60,1198.16 L1280.50,1198.23 L1281.40,1198.29 L1282.30,1198.36 L1283.20,1198.43 L1284.10,1198.49 L1285.00,1198.56 L1285.90,1198.63 L1286.80,1198.69 L1287.70,1198.76 L1288.60,1198.83 L1289.50,1198.89 L1290.40,1198.96 L1291.30,1199.03 L1292.20,1199.09 L1293.10,1199.16 L1294.00,1199.22 L1294.90,1199.29 L1295.80,1199.36 L1296.70,1199.42 L1297.60,1199.49 L1298.50,1199.55 L1299.40,1199.62 L1300.30,1199.68 L1301.20,1199.75 L1302.10,1199.81 L1303.00,1109.47 L1303.90,1109.54 L1304.80,1109.62 L1305.70,1109.69 L1306.60,1109.77 L1307.50,1109.84 L1308.40,1109.91 L1309.30,1109.99 L1310.20,1110.06 L1311.10,1110.14 L1312.00,1110.21 L1312.90,1110.29 L1313.80,1110.36 L1314.70,1110.44 L1315.60,1110.51 L1316.50,1110.58 L1317.40,1110.66 L1318.30,1110.73 L1319.20,1110.81 L1320.10,1110.88 L1321.00,1110.95 L1321.90,1111.03 L1322.80,1111.10 L1323.70,1111.17 L1324.60,1111.25 L1325.50,1111.32 L1326.40,1111.39 L1327.30,1111.47 L1328.20,1111.54 L1329.10,1111.61 L1330.00,1111.68 L1330.90,1111.76 L1331.80,1111.83 L1332.70,1111.90 L1333.60,1111.98 L1334.50,1112.05 L1335.40,1112.12 L1336.30,1112.19 L1337.20,1112.27 L1338.10,1112.34 L1339.00,1112.41 L1339.90,1112.48 L1340.80,1112.55 L1341.70,1112.63 L1342.60,1112.70 L1343.50,1112.77 L1344.40,1112.84 L1345.30,1112.91 L1346.20,1112.98 L1347.10,1113.06 L1348.00,1113.13 L1348.90,1113.20 L1349.80,1113.27 L1350.70,1113.34 L1351.60,1113.41 L1352.50,1113.48 L1353.40,1113.55 L1354.30,1113.62 L1355.20,1113.70 L1356.10,1113.77 L1357.00,1113.84 L1357.90,1113.91 L1358.80,1113.98 L1359.70,1114.05 L1360.60,1114.12 L1361.50,1114.19 L1362.40,1114.26 L1363.30,1114.33 L1364.20,1114.40 L1365.10,1114.47 L1366.00,1114.54 L1366.90,1114.61 L1367.80,1114.68 L1368.70,1114.75 L1369.60,1114.82 L1370.50,1114.89 L1371.40,1114.96 L1372.30,1115.03 L1373.20,1115.10 L1374.10,1115.17 L1375.00,1115.24 L1375.90,1115.30 L1376.80,1115.37 L1377.70,1115.44 L1378.60,1115.51 L1379.50,1115.58 L1380.40,1115.65 L1381.30,1115.72 L1382.20,1115.79 L1383.10,1115.86 L1384.00,1115.92 L1384.90,1115.99 L1385.80,1116.06 L1386.70,1116.13 L1387.60,1116.20 L1388.50,1116.27 L1389.40,1116.33 L1390.30,1116.40 L1391.20,1116.47 L1392.10,1116.54 L1393.00,1116.61 L1393.90,1116.67 L1394.80,1116.74 L1395.70,1116.81 L1396.60,1116.88 L1397.50,1116.95 L1398.40,1117.01 L1399.30,1117.08 L1400.20,1117.15 L1401.10,1117.21 L1402.00,1117.28 L1402.90,1117.35 L1403.80,1117.42 L1404.70,1117.48 L1405.60,1117.55 L1406.50,1117.62 L1407.40,1117.68 L1408.30,1117.75 L1409.20,1117.82 L1410.10,1117.88 L1411.00,1117.95 L1411.90,1118.02 L1412.80,1118.08 L1413.70,1118.15 L1414.60,1118.22 L1415.50,1118.28 L1416.40,1118.35 L1417.30,1118.42 L1418.20,1118.48 L1419.10,1118.55 L1420.00,1118.61 L1420.90,1118.68 L1421.80,1118.74 L1422.70,1118.81 L1423.60,1118.88 L1424.50,1118.94 L1425.40,1119.01 L1426.30,1119.07 L1427.20,1119.14 L1428.10,1119.20 L1429.00,1119.27 L1429.90,1119.33 L1430.80,1119.40 L1431.70,1119.46 L1432.60,1119.53 L1433.50,1119.59 L1434.40,1119.66 L1435.30,1119.72 L1436.20,1119.79 L1437.10,1119.85 L1438.00,1119.92 L1438.90,1119.98 L1439.80,1120.05 L1440.70,1120.11 L1441.60,1120.18 L1442.50,1120.24 L1443.40,1120.31 L1444.30,1120.37 L1445.20,1120.43 L1446.10,1120.50 L1447.00,1120.56 L1447.90,1120.63 L1448.80,1120.69 L1449.70,1120.75 L1450.60,1120.82 L1451.50,1120.88 L1452.40,1120.95 L1453.30,1121.01 L1454.20,1121.07 L1455.10,1121.14 L1456.00,1121.20 L1456.90,1121.26 L1457.80,1121.33 L1458.70,1121.39 L1459.60,1121.45 L1460.50,1121.52 L1461.40,1121.58 L1462.30,1121.64 L1463.20,1121.71 L1464.10,1121.77 L1465.00,1121.83 L1465.90,1121.89 L1466.80,1121.96 L1467.70,1122.02 L1468.60,1122.08 L1469.50,1122.15 L1470.40,1122.21 L1471.30,1122.27 L1472.20,1122.33 L1473.10,1122.40 L1474.00,1122.46 L1474.90,1122.52 L1475.80,1122.58 L1476.70,1122.64 L1477.60,1122.71 L1478.50,1122.77 L1479.40,1122.83 L1480.30,1122.89 L1481.20,1122.95 L1482.10,1123.02 L1483.00,1123.08 L1483.90,1123.14 L1484.80,1123.20 L1485.70,1123.26 L1486.60,1123.32 L1487.50,1123.39 L1488.40,1123.45 L1489.30,1123.51 L1490.20,1123.57 L1491.10,1123.63 L1492.00,1123.69 L1492.90,1123.75 L1493.80,1123.81 L1494.70,1123.87 L1495.60,1123.94 L1496.50,1124.00 L1497.40,1124.06 L1498.30,1124.12 L1499.20,1124.18 L1500.10,1124.24 L1501.00,1124.30 L1501.90,1124.36 L1502.80,1124.42 L1503.70,1124.48 L1504.60,1124.54 L1505.50,1124.60 L1506.40,1124.66 L1507.30,1124.72 L1508.20,1124.78 L1509.10,1124.84 L1510.00,1124.90 L1510.90,1124.96 L1511.80,1125.02 L1512.70,1125.08 L1513.60,1125.14 L1514.50,1125.20 L1515.40,1125.26 L1516.30,1125.32 L1517.20,1125.38 L1518.10,1125.44 L1519.00,1125.50 L1519.90,1125.56 L1520.80,1125.62 L1521.70,1125.68 L1522.60,1125.74 L1523.50,1125.80 L1524.40,1125.86 L1525.30,1125.92 L1526.20,1125.98 L1527.10,1126.03 L1528.00,1126.09 L1528.90,1126.15 L1529.80,1126.21 L1530.70,1126.27 L1531.60,1126.33 L1532.50,1126.39 L1533.40,1126.45 L1534.30,1126.50 L1535.20,1126.56 L1536.10,1126.62 L1537.00,1126.68 L1537.90,1126.74 L1538.80,1126.80 L1539.70,1126.86 L1540.60,1126.91 L1541.50,1126.97 L1542.40,1127.03 L1543.30,1127.09 L1544.20,1127.15 L1545.10,1127.20 L1546.00,1127.26 L1546.90,1127.32 L1547.80,1127.38 L1548.70,1127.44 L1549.60,1127.49 L1550.50,1127.55 L1551.40,1127.61 L1552.30,1127.67 L1553.20,1127.72 L1554.10,1127.78 L1555.00,1127.84 L1555.90,1127.90 L1556.80,1127.95 L1557.70,1128.01 L1558.60,1128.07 L1559.50,1128.13 L1560.40,1128.18 L1561.30,1128.24 L1562.20,1128.30 L1563.10,1128.35 L1564.00,1128.41 L1564.90,1128.47 L1565.80,1128.52 L1566.70,1128.58 L1567.60,1128.64 L1568.50,1128.69 L1569.40,1128.75 L1570.30,1128.81 L1571.20,1128.86 L1572.10,1128.92 L1573.00,1128.98 L1573.90,1129.03 L1574.80,1129.09 L1575.70,1129.15 L1576.60,1129.20 L1577.50,1129.26 L1578.40,1129.31 L1579.30,1129.37 L1580.20,1129.43 L1581.10,1129.48 L1582.00,1129.54 L1582.90,1129.59 L1583.80,1129.65 L1584.70,1129.71 L1585.60,1129.76 L1586.50,1129.82 L1587.40,1129.87 L1588.30,1129.93 L1589.20,1129.98 L1590.10,1130.04 L1591.00,1130.10 L1591.90,1130.15 L1592.80,1130.21 L1593.70,1130.26 L1594.60,1130.32 L1595.50,1130.37 L1596.40,1130.43 L1597.30,1130.48 L1598.20,1130.54 L1599.10,1130.59 L1600.00,1130.65 L1600.90,1130.70 L1601.80,1130.76 L1602.70,1130.81 L1603.60,1130.87 L1604.50,1130.92 L1605.40,1130.98 L1606.30,1131.03 L1607.20,1131.09 L1608.10,1131.14 L1609.00,1131.20 L1609.90,1131.25 L1610.80,1131.30 L1611.70,1131.36 L1612.60,1131.41 L1613.50,1131.47 L1614.40,1131.52 L1615.30,1131.58 L1616.20,1131.63 L1617.10,1131.68 L1618.00,1131.74 L1618.90,1131.79 L1619.80,1131.85 L1620.70,1131.90 L1621.60,1131.95 L1622.50,1132.01 L1623.40,1132.06 L1624.30,1132.12 L1625.20,1132.17 L1626.10,1132.22 L1627.00,1132.28 L1627.90,1132.33 L1628.80,1132.38 L1629.70,1132.44 L1630.60,1132.49 L1631.50,1132.54 L1632.40,1132.60 L1633.30,1132.65 L1634.20,1132.70 L1635.10,1132.76 L1636.00,1132.81 L1636.90,1132.86 L1637.80,1132.92 L1638.70,1132.97 L1639.60,1133.02 L1640.50,1133.08 L1641.40,1133.13 L1642.30,1133.18 L1643.20,1133.23 L1644.10,1133.29 L1645.00,1133.34 L1645.90,1133.39 L1646.80,1133.45 L1647.70,1133.50 L1648.60,1133.55 L1649.50,1133.60 L1650.40,1133.66 L1651.30,1133.71 L1652.20,1133.76 L1653.10,1133.81 L1654.00,1133.87 L1654.90,1133.92 L1655.80,1133.97 L1656.70,1134.02 L1657.60,1134.07 L1658.50,1134.13 L1659.40,1134.18 L1660.30,1134.23 L1661.20,1134.28 L1662.10,1134.33 L1663.00,1134.39 L1663.90,1134.44 L1664.80,1134.49 L1665.70,1134.54 L1666.60,1134.59 L1667.50,1134.64 L1668.40,1134.70 L1669.30,1134.75 L1670.20,1134.80 L1671.10,1134.85 L1672.00,1134.90 L1672.90,1134.95 L1673.80,1135.01 L1674.70,1135.06 L1675.60,1135.11 L1676.50,1135.16 L1677.40,1135.21 L1678.30,1135.26 L1679.20,1135.31 L1680.10,1135.36 L1681.00,1135.41 L1681.90,1135.47 L1682.80,1135.52 L1683.70,1135.57 L1684.60,1135.62 L1685.50,1135.67 L1686.40,1135.72 L1687.30,1135.77 L1688.20,1135.82 L1689.10,1135.87 L1690.00,1135.92 L1690.90,1135.97 L1691.80,1136.02 L1692.70,1136.07 L1693.60,1136.13 L1694.50,1136.18 L1695.40,1136.23 L1696.30,1136.28 L1697.20,1136.33 L1698.10,1136.38 L1699.00,1136.43 L1699.90,1136.48 L1700.80,1136.53 L1701.70,1136.58 L1702.60,1136.63 L1703.50,1136.68 L1704.40,1136.73 L1705.30,1136.78 L1706.20,1136.83 L1707.10,1136.88 L1708.00,1136.93 L1708.90,1136.98 L1709.80,1137.03 L1710.70,1137.08 L1711.60,1137.13 L1712.50,1137.18 L1713.40,1137.23 L1714.30,1137.28 L1715.20,1137.32 L1716.10,1137.37 L1717.00,1137.42 L1717.90,1137.47 L1718.80,1137.52 L1719.70,1137.57 L1720.60,1137.62 L1721.50,1137.67 L1722.40,1137.72 L1723.30,1137.77 L1724.20,1137.82 L1725.10,1137.87 L1726.00,1137.92 L1726.90,1137.96 L1727.80,1138.01 L1728.70,1138.06 L1729.60,1138.11 L1730.50,1138.16 L1731.40,1138.21 L1732.30,1138.26 L1733.20,1138.31 L1734.10,1138.36 L1735.00,1138.40 L1735.90,1138.45 L1736.80,1138.50 L1737.70,1138.55 L1738.60,1138.60 L1739.50,1138.65 L1740.40,1138.70 L1741.30,1138.74 L1742.20,1138.79 L1743.10,1138.84 L1744.00,1138.89 L1744.90,1138.94 L1745.80,1138.99 L1746.70,1139.03 L1747.60,1139.08 L1748.50,1139.13 L1749.40,1139.18 L1750.30,1139.23 L1751.20,1139.27 L1752.10,1139.32 L1753.00,1139.37 L1753.90,1139.42 L1754.80,1139.47 L1755.70,1139.51 L1756.60,1139.56 L1757.50,1139.61 L1758.40,1139.66 L1759.30,1139.70 L1760.20,1139.75 L1761.10,1139.80 L1762.00,1139.85 L1762.90,1139.89 L1763.80,1139.94 L1764.70,1139.99 L1765.60,1140.04 L1766.50,1140.08 L1767.40,1140.13 L1768.30,1140.18 L1769.20,1140.23 L1770.10,1140.27 L1771.00,1140.32 L1771.90,1140.37 L1772.80,1140.41 L1773.70,1140.46 L1774.60,1140.51 L1775.50,1140.56 L1776.40,1140.60 L1777.30,1140.65 L1778.20,1140.70 L1779.10,1140.74 L1780.00,1140.79 L1780.90,1140.84 L1781.80,1140.88 L1782.70,1140.93 L1783.60,1140.98 L1784.50,1141.02 L1785.40,1141.07 L1786.30,1141.12 L1787.20,1141.16 L1788.10,1141.21 L1789.00,1141.26 L1789.90,1141.30 L1790.80,1141.35 L1791.70,1141.40 L1792.60,1141.44 L1793.50,1141.49 L1794.40,1141.53 L1795.30,1141.58 L1796.20,1141.63 L1797.10,1141.67 L1798.00,1141.72 L1798.90,1141.76 L1799.80,1141.81 L1800.70,1141.86 L1801.60,1141.90 L1802.50,1141.95 L1803.40,1141.99 L1804.30,1142.04 L1805.20,1142.09 L1806.10,1142.13 L1807.00,1142.18 L1807.90,1142.22 L1808.80,1142.27 L1809.70,1142.31 L1810.60,1142.36 L1811.50,1142.41 L1812.40,1142.45 L1813.30,1142.50 L1814.20,1142.54 L1815.10,1142.59 L1816.00,1142.63 L1816.90,1142.68 L1817.80,1142.72 L1818.70,1142.77 L1819.60,1142.82 L1820.50,1142.86 L1821.40,1142.91 L1822.30,1142.95 L1823.20,1143.00 L1824.10,1143.04 L1825.00,1143.09 L1825.90,1143.13 L1826.80,1143.18 L1827.70,1143.22 L1828.60,1143.27 L1829.50,1143.31 L1830.40,1143.36 L1831.30,1143.40 L1832.20,1143.45 L1833.10,1143.49 L1834.00,1143.54 L1834.90,1143.58 L1835.80,1143.62 L1836.70,1143.67 L1837.60,1143.71 L1838.50,1143.76 L1839.40,1143.80 L1840.30,1143.85 L1841.20,1143.89 L1842.10,1143.94 L1843.00,1143.98 L1843.90,1144.03 L1844.80,1144.07 L1845.70,1144.11 L1846.60,1144.16 L1847.50,1144.20 L1848.40,1144.25 L1849.30,1144.29 L1850.20,1144.34 L1851.10,1144.38 L1852.00,1144.42 L1852.90,1144.47 L1853.80,1144.51 L1854.70,1144.56 L1855.60,1144.60 L1856.50,1144.64 L1857.40,1144.69 L1858.30,1144.73 L1859.20,1144.77 L1860.10,1144.82 L1861.00,1144.86 L1861.90,1144.91 L1862.80,1144.95 L1863.70,1144.99 L1864.60,1145.04 L1865.50,1145.08 L1866.40,1145.12 L1867.30,1145.17 L1868.20,1145.21 L1869.10,1145.26 L1870.00,1145.30 L1870.90,1145.34 L1871.80,1145.39 L1872.70,1145.43 L1873.60,1145.47 L1874.50,1145.52 L1875.40,1145.56 L1876.30,1145.60 L1877.20,1145.65 L1878.10,1145.69 L1879.00,1145.73 L1879.90,1145.77 L1880.80,1145.82 L1881.70,1145.86 L1882.60,1145.90 L1883.50,1145.95 L1884.40,1145.99 L1885.30,1146.03 L1886.20,1146.08 L1887.10,1146.12 L1888.00,1146.16 L1888.90,1146.20 L1889.80,1146.25 L1890.70,1146.29 L1891.60,1146.33 L1892.50,1146.37 L1893.40,1146.42 L1894.30,1146.46 L1895.20,1146.50 L1896.10,1146.55 L1897.00,1146.59 L1897.90,1146.63 L1898.80,1146.67 L1899.70,1146.72 L1900.60,1146.76 L1901.50,1146.80 L1902.40,1146.84 L1903.30,1146.88 L1904.20,1146.93 L1905.10,1146.97 L1906.00,1147.01 L1906.90,1147.05 L1907.80,1147.10 L1908.70,1147.14 L1909.60,1147.18 L1910.50,1147.22 L1911.40,1147.26 L1912.30,1147.31 L1913.20,1147.35 L1914.10,1147.39 L1915.00,1147.43 L1915.90,1147.47 L1916.80,1147.52 L1917.70,1147.56 L1918.60,1147.60 L1919.50,1147.64 L1920.40,1147.68 L1921.30,1078.57 L1922.20,1078.61 L1923.10,1078.66 L1924.00,1078.70 L1924.90,1078.75 L1925.80,1078.80 L1926.70,1078.84 L1927.60,1078.89 L1928.50,1078.93 L1929.40,1078.98 L1930.30,1079.02 L1931.20,1079.07 L1932.10,1079.11 L1933.00,1079.16 L1933.90,1079.20 L1934.80,1079.25 L1935.70,1079.29 L1936.60,1079.34 L1937.50,1079.38 L1938.40,1079.43 L1939.30,1079.47 L1940.20,1079.52 L1941.10,1079.56 L1942.00,1079.61 L1942.90,1079.65 L1943.80,1079.69 L1944.70,1079.74 L1945.60,1079.78 L1946.50,1079.83 L1947.40,1079.87 L1948.30,1079.92 L1949.20,1079.96 L1950.10,1080.01 L1951.00,1080.05 L1951.90,1080.10 L1952.80,1080.14 L1953.70,1080.18 L1954.60,1080.23 L1955.50,1080.27 L1956.40,1080.32 L1957.30,1080.36 L1958.20,1080.40 L1959.10,1080.45 L1960.00,1080.49 L1960.90,1080.54 L1961.80,1080.58 L1962.70,1080.62 L1963.60,1080.67 L1964.50,1080.71 L1965.40,1080.76 L1966.30,1080.80 L1967.20,1080.84 L1968.10,1080.89 L1969.00,1080.93 L1969.90,1080.98 L1970.80,1081.02 L1971.70,1081.06 L1972.60,1081.11 L1973.50,1081.15 L1974.40,1081.19 L1975.30,1081.24 L1976.20,1081.28 L1977.10,1081.32 L1978.00,1081.37 L1978.90,1081.41 L1979.80,1081.45 L1980.70,1081.50 L1981.60,1081.54 L1982.50,1081.58 L1983.40,1081.63 L1984.30,1081.67 L1985.20,1081.71 L1986.10,1081.76 L1987.00,1081.80 L1987.90,1081.84 L1988.80,1081.88 L1989.70,1081.93 L1990.60,1081.97 L1991.50,1082.01 L1992.40,1082.06 L1993.30,1082.10 L1994.20,1082.14 L1995.10,1082.18 L1996.00,1082.23 L1996.90,1082.27 L1997.80,1082.31 L1998.70,1082.36 L1999.60,1082.40 L2000.50,1082.44 L2001.40,1082.48 L2002.30,1082.53 L2003.20,1082.57 L2004.10,1082.61 L2005.00,1082.65 L2005.90,1082.70 L2006.80,1082.74 L2007.70,1082.78" stroke="#050707" stroke-width="4.8"/>
</g>
<path d="M195.70,311.70 L215.30,331.30 M195.70,331.30 L215.30,311.70" stroke="#050707" stroke-width="5.0" fill="none"/>
<path d="M375.70,311.70 L395.30,331.30 M375.70,331.30 L395.30,311.70" stroke="#050707" stroke-width="5.0" fill="none"/>
<path d="M555.70,311.70 L575.30,331.30 M555.70,331.30 L575.30,311.70" stroke="#050707" stroke-width="5.0" fill="none"/>
<path d="M735.70,311.70 L755.30,331.30 M735.70,331.30 L755.30,311.70" stroke="#050707" stroke-width="5.0" fill="none"/>
<path d="M915.70,311.70 L935.30,331.30 M915.70,331.30 L935.30,311.70" stroke="#050707" stroke-width="5.0" fill="none"/>
<path d="M1095.70,311.70 L1115.30,331.30 M1095.70,331.30 L1115.30,311.70" stroke="#050707" stroke-width="5.0" fill="none"/>
<path d="M1275.70,311.70 L1295.30,331.30 M1275.70,331.30 L1295.30,311.70" stroke="#050707" stroke-width="5.0" fill="none"/>
<path d="M1455.70,311.70 L1475.30,331.30 M1455.70,331.30 L1475.30,311.70" stroke="#050707" stroke-width="5.0" fill="none"/>
<path d="M1635.70,311.70 L1655.30,331.30 M1635.70,331.30 L1655.30,311.70" stroke="#050707" stroke-width="5.0" fill="none"/>
<path d="M1815.70,311.70 L1835.30,331.30 M1815.70,331.30 L1835.30,311.70" stroke="#050707" stroke-width="5.0" fill="none"/>
<path d="M1995.70,311.70 L2015.30,331.30 M1995.70,331.30 L2015.30,311.70" stroke="#050707" stroke-width="5.0" fill="none"/>
<g font-family="'Liberation Serif', 'Times New Roman', serif" fill="#222222">
<text x="185.00" y="53.10" font-size="56.40" text-anchor="end" letter-spacing="-0.420">0.6</text>
<text x="183.50" y="197.10" font-size="56.40" text-anchor="end" letter-spacing="-0.800">0.55</text>
<text x="184.40" y="341.10" font-size="56.40" text-anchor="end" letter-spacing="-0.420">0.5</text>
<text x="183.50" y="485.10" font-size="56.40" text-anchor="end" letter-spacing="-0.800">0.45</text>
<text x="185.00" y="629.10" font-size="56.40" text-anchor="end" letter-spacing="-0.420">0.4</text>
<text x="183.50" y="773.10" font-size="56.40" text-anchor="end" letter-spacing="-0.800">0.35</text>
<text x="185.00" y="917.10" font-size="56.40" text-anchor="end" letter-spacing="-0.420">0.3</text>
<text x="183.50" y="1061.10" font-size="56.40" text-anchor="end" letter-spacing="-0.800">0.25</text>
<text x="185.00" y="1205.10" font-size="56.40" text-anchor="end" letter-spacing="-0.420">0.2</text>
<text x="183.50" y="1349.10" font-size="56.40" text-anchor="end" letter-spacing="-0.800">0.15</text>
<text x="185.00" y="1493.10" font-size="56.40" text-anchor="end" letter-spacing="-0.420">0.1</text>
<text x="204.40" y="1546.00" font-size="56.40" text-anchor="middle" letter-spacing="-0.420">0</text>
<text x="384.40" y="1546.00" font-size="56.40" text-anchor="middle" letter-spacing="-0.420">200</text>
<text x="564.40" y="1546.00" font-size="56.40" text-anchor="middle" letter-spacing="-0.420">400</text>
<text x="744.40" y="1546.00" font-size="56.40" text-anchor="middle" letter-spacing="-0.420">600</text>
<text x="924.40" y="1546.00" font-size="56.40" text-anchor="middle" letter-spacing="-0.420">800</text>
<text x="1104.40" y="1546.00" font-size="56.40" text-anchor="middle" letter-spacing="-0.420">1000</text>
<text x="1284.40" y="1546.00" font-size="56.40" text-anchor="middle" letter-spacing="-0.420">1200</text>
<text x="1464.40" y="1546.00" font-size="56.40" text-anchor="middle" letter-spacing="-0.420">1400</text>
<text x="1644.40" y="1546.00" font-size="56.40" text-anchor="middle" letter-spacing="-0.420">1600</text>
<text x="1824.40" y="1546.00" font-size="56.40" text-anchor="middle" letter-spacing="-0.420">1800</text>
<text x="2004.40" y="1546.00" font-size="56.40" text-anchor="middle" letter-spacing="-0.420">2000</text>
<text x="1105.20" y="1611.00" font-size="58.50" text-anchor="middle" letter-spacing="1.080">Blocklength (n)</text>
<text transform="translate(61.50,766.90) rotate(-90)" font-size="58.50" text-anchor="middle" letter-spacing="-0.145">Rate (bit/channel use)</text>
</g>
<g shape-rendering="crispEdges">
<rect x="1256" y="69" width="713" height="240" fill="#232323"/>
<rect x="1259" y="73" width="707" height="233" fill="#ffffff"/>
</g>
<g fill="none">
<path d="M1271.0,105.2 H1409.2" stroke="#050707" stroke-width="5"/>
<path d="M1330.30,95.40 L1349.90,115.00 M1330.30,115.00 L1349.90,95.40" stroke="#050707" stroke-width="5.0" fill="none"/>
<path d="M1271.0,161.3 H1409.2" stroke="#ed1c24" stroke-width="5" stroke-dasharray="35 19.9"/>
<path d="M1271.0,217.1 H1409.2" stroke="#050707" stroke-width="5" stroke-dasharray="35 19.9"/>
<path d="M1271.0,273.4 H1409.2" stroke="#050707" stroke-width="5"/>
</g>
<g font-family="'Liberation Serif', 'Times New Roman', serif" fill="#222222">
<text x="1418.8 1450.3 1469.5 1494.6 1515.3 1539.2 1552.3 1563.3" y="121.1" font-size="48.40">Capacity</text>
<text y="177.0" font-size="48.40"><tspan x="1418.50" letter-spacing="-1.470">Achievability</tspan> <tspan x="1679.90" letter-spacing="0.130">(Theorem</tspan> <tspan x="1885.00" letter-spacing="0.300">3)</tspan></text>
<text y="233.0" font-size="48.40"><tspan x="1418.50" letter-spacing="-0.770">Approximation</tspan> <tspan x="1717.10" letter-spacing="0.170">(40)</tspan></text>
<text y="289.1" font-size="48.40"><tspan x="1418.50" letter-spacing="-0.770">Approximation</tspan> <tspan x="1717.10" letter-spacing="0.170">(43)</tspan></text>
</g>
</svg>
</body></html>
